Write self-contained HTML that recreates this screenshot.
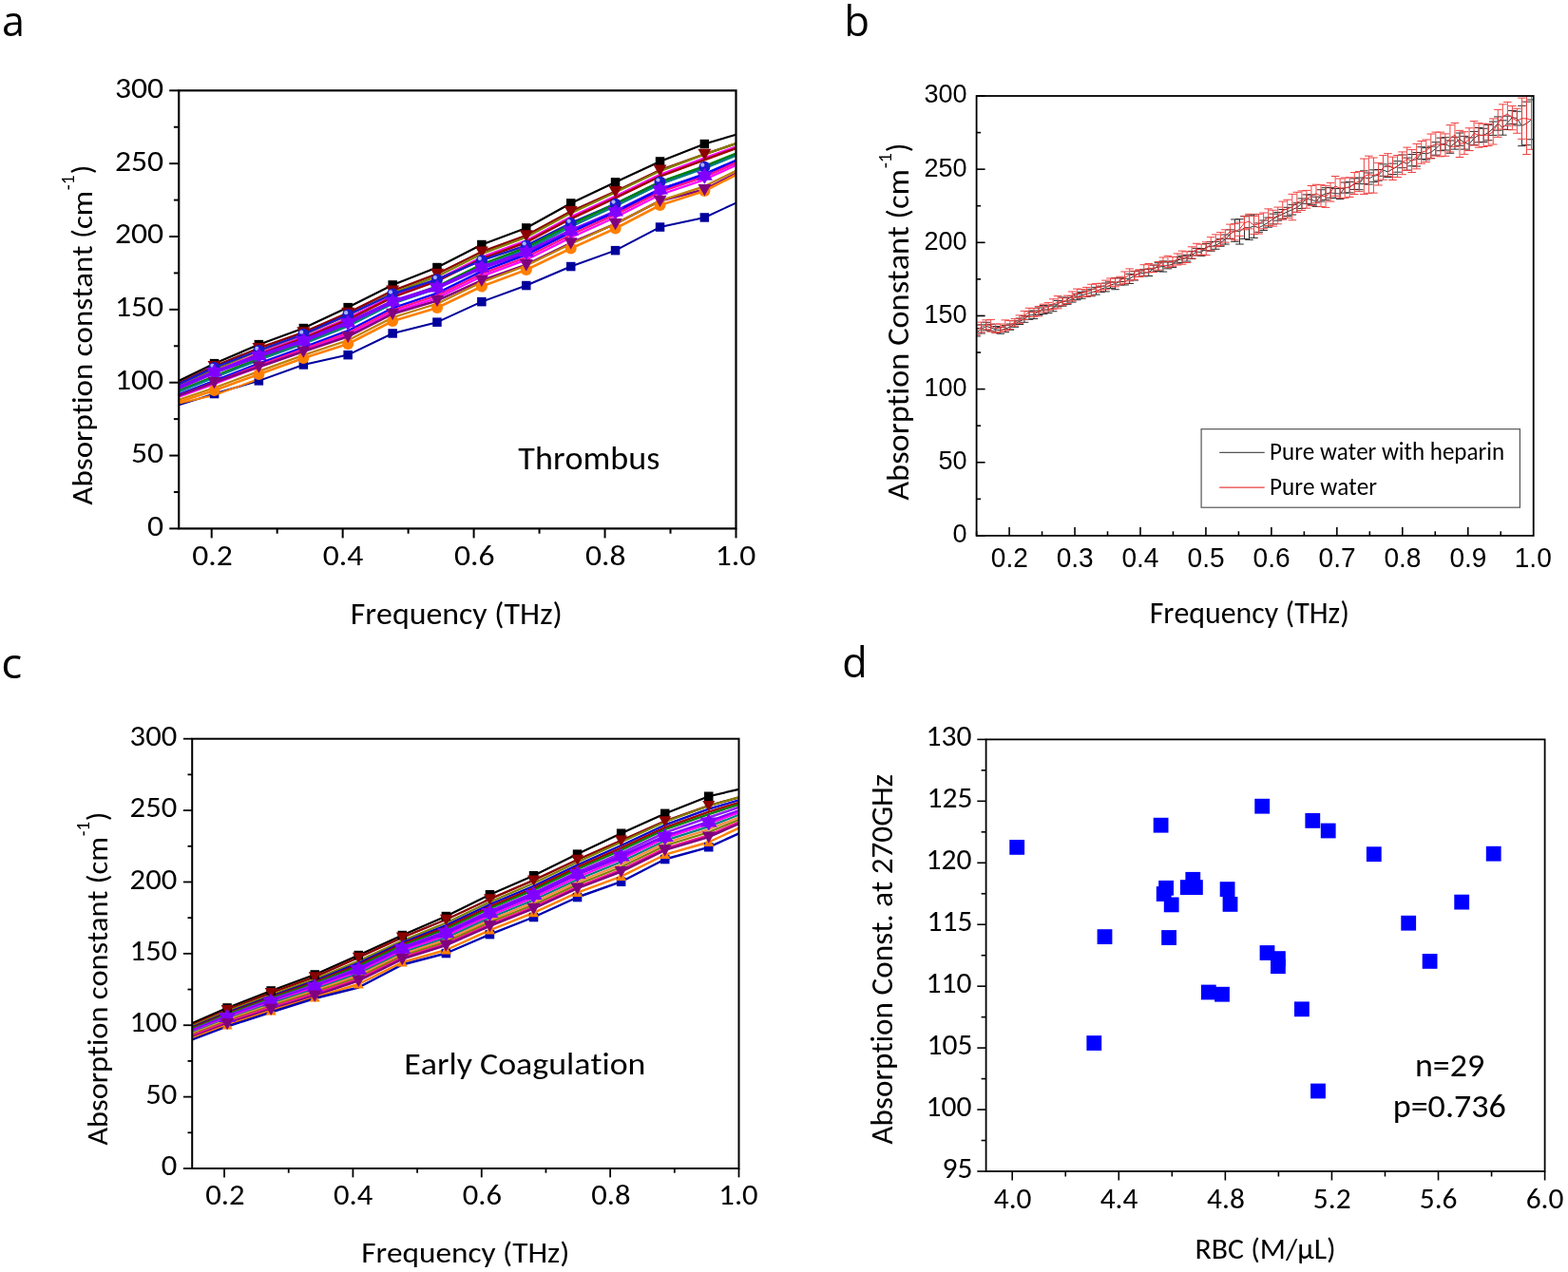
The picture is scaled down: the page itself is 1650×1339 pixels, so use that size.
<!DOCTYPE html>
<html><head><meta charset="utf-8"><title>Figure</title>
<style>html,body{margin:0;padding:0;background:#fff;width:1650px;height:1339px;overflow:hidden}</style>
</head><body>
<svg width="1650" height="1339" viewBox="0 0 1650 1339" style="display:block;font-kerning:none;font-variant-ligatures:none">
<rect width="1650" height="1339" fill="#fff"/>
<defs><clipPath id="clipA"><rect x="188.2" y="95.3" width="586.3" height="461.1"/></clipPath><clipPath id="clipC"><rect x="202.2" y="777.7" width="575.3" height="452.3"/></clipPath><clipPath id="clipB"><rect x="1027.6" y="101" width="586.1" height="462.9"/></clipPath></defs>
<g clip-path="url(#clipA)">
<polyline points="188.2,401.0 225.5,382.7 272.4,362.7 319.3,345.5 366.2,323.6 413.1,300.0 460.0,281.5 506.9,257.5 553.8,240.0 600.7,214.0 647.6,191.8 694.5,170.0 741.4,151.5 774.5,141.8" fill="none" stroke="#000000" stroke-width="2.2" stroke-linejoin="round" />
<polyline points="188.2,403.2 225.5,385.5 272.4,366.5 319.3,349.9 366.2,329.4 413.1,306.1 460.0,288.3 506.9,265.0 553.8,247.9 600.7,222.6 647.6,201.5 694.5,179.2 741.4,162.4 774.5,151.1" fill="none" stroke="#8B0000" stroke-width="2.4" stroke-linejoin="round" />
<polyline points="188.2,405.8 225.5,388.9 272.4,369.6 319.3,352.4 366.2,332.0 413.1,308.4 460.0,290.9 506.9,267.2 553.8,249.7 600.7,224.4 647.6,202.5 694.5,180.1 741.4,162.4 774.5,151.1" fill="none" stroke="#808000" stroke-width="2.2" stroke-linejoin="round" />
<polyline points="188.2,407.6 225.5,391.2 272.4,372.1 319.3,354.9 366.2,335.1 413.1,311.4 460.0,294.2 506.9,270.7 553.8,253.2 600.7,228.2 647.6,206.4 694.5,183.8 741.4,166.3 774.5,154.5" fill="none" stroke="#FF00FF" stroke-width="2.2" stroke-linejoin="round" />
<polyline points="188.2,408.5 225.5,392.3 272.4,373.3 319.3,356.2 366.2,336.7 413.1,312.9 460.0,295.9 506.9,272.5 553.8,255.0 600.7,230.2 647.6,208.4 694.5,185.6 741.4,168.3 774.5,156.1" fill="none" stroke="#A00000" stroke-width="2.6" stroke-linejoin="round" />
<polyline points="188.2,404.3 225.5,386.9 272.4,369.0 319.3,351.8 366.2,331.3 413.1,309.5 460.0,294.2 506.9,274.2 553.8,258.5 600.7,234.9 647.6,214.7 694.5,191.6 741.4,175.8 774.5,162.9" fill="none" stroke="#1a1acd" stroke-width="2.4" stroke-linejoin="round" />
<polyline points="188.2,411.3 225.5,396.0 272.4,377.4 319.3,360.3 366.2,341.6 413.1,317.9 460.0,301.5 506.9,278.2 553.8,260.7 600.7,236.3 647.6,214.7 694.5,191.6 741.4,174.8 774.5,161.6" fill="none" stroke="#008000" stroke-width="2.4" stroke-linejoin="round" />
<polyline points="188.2,412.4 225.5,397.4 272.4,379.0 319.3,361.9 366.2,343.6 413.1,319.8 460.0,303.6 506.9,280.4 553.8,262.9 600.7,238.7 647.6,217.1 694.5,193.9 741.4,177.2 774.5,163.7" fill="none" stroke="#008080" stroke-width="2.2" stroke-linejoin="round" />
<polyline points="188.2,408.0 225.5,391.8 272.4,374.6 319.3,358.7 366.2,339.7 413.1,317.5 460.0,302.8 506.9,281.7 553.8,265.5 600.7,243.0 647.6,223.0 694.5,199.9 741.4,185.2 774.5,170.5" fill="none" stroke="#8000FF" stroke-width="4.0" stroke-linejoin="round" />
<polyline points="188.2,415.1 225.5,400.8 272.4,382.7 319.3,365.7 366.2,348.2 413.1,324.3 460.0,308.7 506.9,285.7 553.8,268.2 600.7,244.4 647.6,223.0 694.5,199.4 741.4,183.2 774.5,168.8" fill="none" stroke="#0000FF" stroke-width="2.4" stroke-linejoin="round" />
<polyline points="188.2,416.4 225.5,402.5 272.4,384.6 319.3,367.6 366.2,350.5 413.1,326.6 460.0,311.2 506.9,288.3 553.8,270.8 600.7,247.2 647.6,225.9 694.5,202.2 741.4,186.2 774.5,171.3" fill="none" stroke="#FF1493" stroke-width="2.4" stroke-linejoin="round" />
<polyline points="188.2,417.7 225.5,404.2 272.4,386.5 319.3,369.4 366.2,352.8 413.1,328.9 460.0,313.8 506.9,290.9 553.8,273.4 600.7,250.1 647.6,228.8 694.5,205.0 741.4,189.1 774.5,173.9" fill="none" stroke="#FF00FF" stroke-width="2.2" stroke-linejoin="round" />
<polyline points="188.2,416.4 225.5,402.5 272.4,386.2 319.3,370.1 366.2,354.3 413.1,330.4 460.0,316.4 506.9,295.3 553.8,278.7 600.7,255.8 647.6,235.6 694.5,211.4 741.4,199.5 774.5,182.7" fill="none" stroke="#800080" stroke-width="2.6" stroke-linejoin="round" />
<polyline points="188.2,420.8 225.5,408.2 272.4,390.9 319.3,373.9 366.2,358.2 413.1,334.2 460.0,319.8 506.9,297.1 553.8,279.6 600.7,256.8 647.6,235.6 694.5,211.4 741.4,196.1 774.5,179.8" fill="none" stroke="#C08000" stroke-width="2.2" stroke-linejoin="round" />
<polyline points="188.2,423.0 225.5,411.0 272.4,394.0 319.3,377.0 366.2,362.0 413.1,338.0 460.0,324.0 506.9,301.5 553.8,284.0 600.7,261.5 647.6,240.5 694.5,216.0 741.4,201.0 774.5,184.0" fill="none" stroke="#FF8000" stroke-width="2.6" stroke-linejoin="round" />
<polyline points="188.2,426.4 225.5,414.5 272.4,400.9 319.3,384.0 366.2,373.6 413.1,351.0 460.0,339.2 506.9,317.6 553.8,300.5 600.7,280.5 647.6,263.6 694.5,239.1 741.4,229.0 774.5,213.6" fill="none" stroke="#00009C" stroke-width="2.0" stroke-linejoin="round" />
<polyline points="188.2,424.5 225.5,416.0 272.4,399.0" fill="none" stroke="#FF8000" stroke-width="2.0" stroke-linejoin="round" />
<rect x="220.8" y="409.8" width="9.5" height="9.5" fill="#00009C"/>
<rect x="267.6" y="396.1" width="9.5" height="9.5" fill="#00009C"/>
<rect x="314.6" y="379.2" width="9.5" height="9.5" fill="#00009C"/>
<rect x="361.4" y="368.9" width="9.5" height="9.5" fill="#00009C"/>
<rect x="408.4" y="346.2" width="9.5" height="9.5" fill="#00009C"/>
<rect x="455.2" y="334.4" width="9.5" height="9.5" fill="#00009C"/>
<rect x="502.1" y="312.9" width="9.5" height="9.5" fill="#00009C"/>
<rect x="549.0" y="295.8" width="9.5" height="9.5" fill="#00009C"/>
<rect x="596.0" y="275.8" width="9.5" height="9.5" fill="#00009C"/>
<rect x="642.8" y="258.9" width="9.5" height="9.5" fill="#00009C"/>
<rect x="689.8" y="234.3" width="9.5" height="9.5" fill="#00009C"/>
<rect x="736.6" y="224.2" width="9.5" height="9.5" fill="#00009C"/>
<circle cx="225.5" cy="411.0" r="6.0" fill="#FF8000"/>
<circle cx="272.4" cy="394.0" r="6.0" fill="#FF8000"/>
<circle cx="319.3" cy="377.0" r="6.0" fill="#FF8000"/>
<circle cx="366.2" cy="362.0" r="6.0" fill="#FF8000"/>
<circle cx="413.1" cy="338.0" r="6.0" fill="#FF8000"/>
<circle cx="460.0" cy="324.0" r="6.0" fill="#FF8000"/>
<circle cx="506.9" cy="301.5" r="6.0" fill="#FF8000"/>
<circle cx="553.8" cy="284.0" r="6.0" fill="#FF8000"/>
<circle cx="600.7" cy="261.5" r="6.0" fill="#FF8000"/>
<circle cx="647.6" cy="240.5" r="6.0" fill="#FF8000"/>
<circle cx="694.5" cy="216.0" r="6.0" fill="#FF8000"/>
<circle cx="741.4" cy="201.0" r="6.0" fill="#FF8000"/>
<rect x="220.8" y="377.9" width="9.5" height="9.5" fill="#000000"/>
<rect x="267.6" y="357.9" width="9.5" height="9.5" fill="#000000"/>
<rect x="314.6" y="340.8" width="9.5" height="9.5" fill="#000000"/>
<rect x="361.4" y="318.9" width="9.5" height="9.5" fill="#000000"/>
<rect x="408.4" y="295.2" width="9.5" height="9.5" fill="#000000"/>
<rect x="455.2" y="276.8" width="9.5" height="9.5" fill="#000000"/>
<rect x="502.1" y="252.8" width="9.5" height="9.5" fill="#000000"/>
<rect x="549.0" y="235.2" width="9.5" height="9.5" fill="#000000"/>
<rect x="596.0" y="209.2" width="9.5" height="9.5" fill="#000000"/>
<rect x="642.8" y="187.1" width="9.5" height="9.5" fill="#000000"/>
<rect x="689.8" y="165.2" width="9.5" height="9.5" fill="#000000"/>
<rect x="736.6" y="146.8" width="9.5" height="9.5" fill="#000000"/>
<polygon points="218.5,379.9 232.5,379.9 225.5,392.2" fill="#8B0000"/>
<polygon points="265.4,360.9 279.4,360.9 272.4,373.1" fill="#8B0000"/>
<polygon points="312.3,344.3 326.3,344.3 319.3,356.6" fill="#8B0000"/>
<polygon points="359.2,323.8 373.2,323.8 366.2,336.0" fill="#8B0000"/>
<polygon points="406.1,300.5 420.1,300.5 413.1,312.7" fill="#8B0000"/>
<polygon points="453.0,282.7 467.0,282.7 460.0,294.9" fill="#8B0000"/>
<polygon points="499.9,259.4 513.9,259.4 506.9,271.6" fill="#8B0000"/>
<polygon points="546.8,242.3 560.8,242.3 553.8,254.6" fill="#8B0000"/>
<polygon points="593.7,217.0 607.7,217.0 600.7,229.2" fill="#8B0000"/>
<polygon points="640.6,195.9 654.6,195.9 647.6,208.2" fill="#8B0000"/>
<polygon points="687.5,173.6 701.5,173.6 694.5,185.8" fill="#8B0000"/>
<polygon points="734.4,156.8 748.4,156.8 741.4,169.0" fill="#8B0000"/>
<circle cx="225.5" cy="386.9" r="6.0" fill="#1a1acd"/>
<circle cx="223.4" cy="384.8" r="2.1" fill="#aab4ff"/>
<circle cx="272.4" cy="369.0" r="6.0" fill="#1a1acd"/>
<circle cx="270.3" cy="366.9" r="2.1" fill="#aab4ff"/>
<circle cx="319.3" cy="351.8" r="6.0" fill="#1a1acd"/>
<circle cx="317.2" cy="349.7" r="2.1" fill="#aab4ff"/>
<circle cx="366.2" cy="331.3" r="6.0" fill="#1a1acd"/>
<circle cx="364.1" cy="329.2" r="2.1" fill="#aab4ff"/>
<circle cx="413.1" cy="309.5" r="6.0" fill="#1a1acd"/>
<circle cx="411.0" cy="307.4" r="2.1" fill="#aab4ff"/>
<circle cx="460.0" cy="294.2" r="6.0" fill="#1a1acd"/>
<circle cx="457.9" cy="292.1" r="2.1" fill="#aab4ff"/>
<circle cx="506.9" cy="274.2" r="6.0" fill="#1a1acd"/>
<circle cx="504.8" cy="272.1" r="2.1" fill="#aab4ff"/>
<circle cx="553.8" cy="258.5" r="6.0" fill="#1a1acd"/>
<circle cx="551.7" cy="256.4" r="2.1" fill="#aab4ff"/>
<circle cx="600.7" cy="234.9" r="6.0" fill="#1a1acd"/>
<circle cx="598.6" cy="232.8" r="2.1" fill="#aab4ff"/>
<circle cx="647.6" cy="214.7" r="6.0" fill="#1a1acd"/>
<circle cx="645.5" cy="212.6" r="2.1" fill="#aab4ff"/>
<circle cx="694.5" cy="191.6" r="6.0" fill="#1a1acd"/>
<circle cx="692.4" cy="189.5" r="2.1" fill="#aab4ff"/>
<circle cx="741.4" cy="175.8" r="6.0" fill="#1a1acd"/>
<circle cx="739.3" cy="173.7" r="2.1" fill="#aab4ff"/>
<polygon points="217.0,387.1 234.0,387.1 225.5,400.3" fill="#8000FF"/>
<polygon points="217.0,396.4 234.0,396.4 225.5,383.3" fill="#8000FF"/>
<polygon points="263.9,369.9 280.9,369.9 272.4,383.1" fill="#8000FF"/>
<polygon points="263.9,379.3 280.9,379.3 272.4,366.1" fill="#8000FF"/>
<polygon points="310.8,354.1 327.8,354.1 319.3,367.2" fill="#8000FF"/>
<polygon points="310.8,363.4 327.8,363.4 319.3,350.2" fill="#8000FF"/>
<polygon points="357.7,335.1 374.7,335.1 366.2,348.2" fill="#8000FF"/>
<polygon points="357.7,344.4 374.7,344.4 366.2,331.2" fill="#8000FF"/>
<polygon points="404.6,312.8 421.6,312.8 413.1,326.0" fill="#8000FF"/>
<polygon points="404.6,322.2 421.6,322.2 413.1,309.0" fill="#8000FF"/>
<polygon points="451.5,298.1 468.5,298.1 460.0,311.2" fill="#8000FF"/>
<polygon points="451.5,307.4 468.5,307.4 460.0,294.2" fill="#8000FF"/>
<polygon points="498.4,277.0 515.4,277.0 506.9,290.2" fill="#8000FF"/>
<polygon points="498.4,286.4 515.4,286.4 506.9,273.2" fill="#8000FF"/>
<polygon points="545.3,260.8 562.3,260.8 553.8,274.0" fill="#8000FF"/>
<polygon points="545.3,270.2 562.3,270.2 553.8,257.0" fill="#8000FF"/>
<polygon points="592.2,238.3 609.2,238.3 600.7,251.5" fill="#8000FF"/>
<polygon points="592.2,247.7 609.2,247.7 600.7,234.5" fill="#8000FF"/>
<polygon points="639.1,218.3 656.1,218.3 647.6,231.5" fill="#8000FF"/>
<polygon points="639.1,227.6 656.1,227.6 647.6,214.5" fill="#8000FF"/>
<polygon points="686.0,195.2 703.0,195.2 694.5,208.4" fill="#8000FF"/>
<polygon points="686.0,204.6 703.0,204.6 694.5,191.4" fill="#8000FF"/>
<polygon points="732.9,180.5 749.9,180.5 741.4,193.7" fill="#8000FF"/>
<polygon points="732.9,189.8 749.9,189.8 741.4,176.7" fill="#8000FF"/>
<polygon points="218.5,396.9 232.5,396.9 225.5,409.2" fill="#800080"/>
<polygon points="265.4,380.6 279.4,380.6 272.4,392.8" fill="#800080"/>
<polygon points="312.3,364.5 326.3,364.5 319.3,376.7" fill="#800080"/>
<polygon points="359.2,348.7 373.2,348.7 366.2,361.0" fill="#800080"/>
<polygon points="406.1,324.8 420.1,324.8 413.1,337.0" fill="#800080"/>
<polygon points="453.0,310.8 467.0,310.8 460.0,323.0" fill="#800080"/>
<polygon points="499.9,289.7 513.9,289.7 506.9,302.0" fill="#800080"/>
<polygon points="546.8,273.1 560.8,273.1 553.8,285.4" fill="#800080"/>
<polygon points="593.7,250.2 607.7,250.2 600.7,262.4" fill="#800080"/>
<polygon points="640.6,230.0 654.6,230.0 647.6,242.3" fill="#800080"/>
<polygon points="687.5,205.8 701.5,205.8 694.5,218.1" fill="#800080"/>
<polygon points="734.4,193.9 748.4,193.9 741.4,206.2" fill="#800080"/>
</g>
<rect x="188.2" y="95.3" width="586.30" height="461.10" fill="none" stroke="#000" stroke-width="2.2"/>
<line x1="178.20" y1="556.40" x2="188.20" y2="556.40" stroke="#000" stroke-width="2.0" stroke-linecap="butt"/>
<line x1="182.90" y1="517.98" x2="188.20" y2="517.98" stroke="#000" stroke-width="2.0" stroke-linecap="butt"/>
<line x1="178.20" y1="479.55" x2="188.20" y2="479.55" stroke="#000" stroke-width="2.0" stroke-linecap="butt"/>
<line x1="182.90" y1="441.12" x2="188.20" y2="441.12" stroke="#000" stroke-width="2.0" stroke-linecap="butt"/>
<line x1="178.20" y1="402.70" x2="188.20" y2="402.70" stroke="#000" stroke-width="2.0" stroke-linecap="butt"/>
<line x1="182.90" y1="364.27" x2="188.20" y2="364.27" stroke="#000" stroke-width="2.0" stroke-linecap="butt"/>
<line x1="178.20" y1="325.85" x2="188.20" y2="325.85" stroke="#000" stroke-width="2.0" stroke-linecap="butt"/>
<line x1="182.90" y1="287.42" x2="188.20" y2="287.42" stroke="#000" stroke-width="2.0" stroke-linecap="butt"/>
<line x1="178.20" y1="249.00" x2="188.20" y2="249.00" stroke="#000" stroke-width="2.0" stroke-linecap="butt"/>
<line x1="182.90" y1="210.58" x2="188.20" y2="210.58" stroke="#000" stroke-width="2.0" stroke-linecap="butt"/>
<line x1="178.20" y1="172.15" x2="188.20" y2="172.15" stroke="#000" stroke-width="2.0" stroke-linecap="butt"/>
<line x1="182.90" y1="133.73" x2="188.20" y2="133.73" stroke="#000" stroke-width="2.0" stroke-linecap="butt"/>
<line x1="178.20" y1="95.30" x2="188.20" y2="95.30" stroke="#000" stroke-width="2.0" stroke-linecap="butt"/>
<line x1="222.69" y1="556.40" x2="222.69" y2="566.40" stroke="#000" stroke-width="2.0" stroke-linecap="butt"/>
<line x1="291.66" y1="556.40" x2="291.66" y2="561.70" stroke="#000" stroke-width="2.0" stroke-linecap="butt"/>
<line x1="360.64" y1="556.40" x2="360.64" y2="566.40" stroke="#000" stroke-width="2.0" stroke-linecap="butt"/>
<line x1="429.62" y1="556.40" x2="429.62" y2="561.70" stroke="#000" stroke-width="2.0" stroke-linecap="butt"/>
<line x1="498.59" y1="556.40" x2="498.59" y2="566.40" stroke="#000" stroke-width="2.0" stroke-linecap="butt"/>
<line x1="567.57" y1="556.40" x2="567.57" y2="561.70" stroke="#000" stroke-width="2.0" stroke-linecap="butt"/>
<line x1="636.55" y1="556.40" x2="636.55" y2="566.40" stroke="#000" stroke-width="2.0" stroke-linecap="butt"/>
<line x1="705.52" y1="556.40" x2="705.52" y2="561.70" stroke="#000" stroke-width="2.0" stroke-linecap="butt"/>
<line x1="774.50" y1="556.40" x2="774.50" y2="566.40" stroke="#000" stroke-width="2.0" stroke-linecap="butt"/>
<text x="155.09" y="563.80" font-family="Carlito, 'Liberation Sans', sans-serif" font-size="31.50" textLength="17.08" lengthAdjust="spacingAndGlyphs" fill="#000" style="font-size-adjust:0.4775">0</text>
<text x="138.01" y="486.95" font-family="Carlito, 'Liberation Sans', sans-serif" font-size="31.50" textLength="34.17" lengthAdjust="spacingAndGlyphs" fill="#000" style="font-size-adjust:0.4775">50</text>
<text x="120.92" y="410.10" font-family="Carlito, 'Liberation Sans', sans-serif" font-size="31.50" textLength="51.25" lengthAdjust="spacingAndGlyphs" fill="#000" style="font-size-adjust:0.4775">100</text>
<text x="120.92" y="333.25" font-family="Carlito, 'Liberation Sans', sans-serif" font-size="31.50" textLength="51.25" lengthAdjust="spacingAndGlyphs" fill="#000" style="font-size-adjust:0.4775">150</text>
<text x="120.92" y="256.40" font-family="Carlito, 'Liberation Sans', sans-serif" font-size="31.50" textLength="51.25" lengthAdjust="spacingAndGlyphs" fill="#000" style="font-size-adjust:0.4775">200</text>
<text x="120.92" y="179.55" font-family="Carlito, 'Liberation Sans', sans-serif" font-size="31.50" textLength="51.25" lengthAdjust="spacingAndGlyphs" fill="#000" style="font-size-adjust:0.4775">250</text>
<text x="120.92" y="102.70" font-family="Carlito, 'Liberation Sans', sans-serif" font-size="31.50" textLength="51.25" lengthAdjust="spacingAndGlyphs" fill="#000" style="font-size-adjust:0.4775">300</text>
<text x="202.20" y="594.80" font-family="Carlito, 'Liberation Sans', sans-serif" font-size="31.40" textLength="42.54" lengthAdjust="spacingAndGlyphs" fill="#000" style="font-size-adjust:0.4775">0.2</text>
<text x="339.72" y="594.80" font-family="Carlito, 'Liberation Sans', sans-serif" font-size="31.40" textLength="42.54" lengthAdjust="spacingAndGlyphs" fill="#000" style="font-size-adjust:0.4775">0.4</text>
<text x="477.97" y="594.80" font-family="Carlito, 'Liberation Sans', sans-serif" font-size="31.40" textLength="42.54" lengthAdjust="spacingAndGlyphs" fill="#000" style="font-size-adjust:0.4775">0.6</text>
<text x="616.02" y="594.80" font-family="Carlito, 'Liberation Sans', sans-serif" font-size="31.40" textLength="42.54" lengthAdjust="spacingAndGlyphs" fill="#000" style="font-size-adjust:0.4775">0.8</text>
<text x="752.71" y="594.80" font-family="Carlito, 'Liberation Sans', sans-serif" font-size="31.40" textLength="42.54" lengthAdjust="spacingAndGlyphs" fill="#000" style="font-size-adjust:0.4775">1.0</text>
<text x="368.72" y="656.60" font-family="Carlito, 'Liberation Sans', sans-serif" font-size="32.40" textLength="223.06" lengthAdjust="spacingAndGlyphs" fill="#000" style="font-size-adjust:0.4775">Frequency (THz)</text>
<text x="545.38" y="493.70" font-family="Carlito, 'Liberation Sans', sans-serif" font-size="34.00" textLength="148.94" lengthAdjust="spacingAndGlyphs" fill="#000" style="font-size-adjust:0.4775">Thrombus</text>
<text x="2.02" y="37.80" font-family="'Open Sans', 'DejaVu Sans', 'Liberation Sans', sans-serif" font-size="43.50" textLength="23.97" lengthAdjust="spacingAndGlyphs" fill="#000" style="font-size-adjust:0.535">a</text>
<text transform="translate(97.10,531.63) rotate(-90)" x="0" y="0" font-family="Carlito, 'Liberation Sans', sans-serif" font-size="31.20" textLength="330.84" lengthAdjust="spacingAndGlyphs" fill="#000" style="font-size-adjust:0.4775">Absorption constant (cm</text>
<text transform="translate(77.50,200.31) rotate(-90)" x="0" y="0" font-family="Carlito, 'Liberation Sans', sans-serif" font-size="20.00" textLength="15.78" lengthAdjust="spacingAndGlyphs" fill="#000" style="font-size-adjust:0.4775">-1</text>
<text transform="translate(97.10,183.27) rotate(-90)" x="0" y="0" font-family="Carlito, 'Liberation Sans', sans-serif" font-size="31.20" textLength="9.45" lengthAdjust="spacingAndGlyphs" fill="#000" style="font-size-adjust:0.4775">)</text>
<g clip-path="url(#clipC)">
<polyline points="202.2,1077.0 239.1,1061.0 285.2,1043.0 331.2,1026.0 377.3,1005.5 423.3,984.5 469.4,964.5 515.5,941.8 561.5,921.8 607.6,899.1 653.6,877.3 699.7,856.4 745.8,838.2 777.5,830.9" fill="none" stroke="#000000" stroke-width="2.2" stroke-linejoin="round" />
<polyline points="202.2,1078.9 239.1,1063.2 285.2,1045.1 331.2,1028.4 377.3,1007.9 423.3,986.8 469.4,968.0 515.5,946.4 561.5,926.6 607.6,905.0 653.6,884.8 699.7,864.4 745.8,848.2 777.5,839.3" fill="none" stroke="#8B0000" stroke-width="2.4" stroke-linejoin="round" />
<polyline points="202.2,1080.2 239.1,1064.6 285.2,1047.2 331.2,1030.8 377.3,1011.6 423.3,990.2 469.4,971.6 515.5,949.4 561.5,929.8 607.6,907.5 653.6,886.6 699.7,865.3 745.8,848.2 777.5,839.3" fill="none" stroke="#808000" stroke-width="2.2" stroke-linejoin="round" />
<polyline points="202.2,1081.3 239.1,1065.9 285.2,1048.7 331.2,1032.5 377.3,1013.7 423.3,992.2 469.4,974.1 515.5,952.1 561.5,932.7 607.6,910.4 653.6,889.9 699.7,868.4 745.8,851.6 777.5,842.3" fill="none" stroke="#0000CD" stroke-width="2.2" stroke-linejoin="round" />
<polyline points="202.2,1082.3 239.1,1066.9 285.2,1049.9 331.2,1033.9 377.3,1015.6 423.3,993.9 469.4,976.2 515.5,954.4 561.5,935.1 607.6,912.9 653.6,892.7 699.7,871.1 745.8,854.6 777.5,844.8" fill="none" stroke="#A00000" stroke-width="2.4" stroke-linejoin="round" />
<polyline points="202.2,1083.1 239.1,1067.8 285.2,1051.0 331.2,1035.1 377.3,1017.1 423.3,995.3 469.4,978.0 515.5,956.3 561.5,937.1 607.6,915.0 653.6,895.0 699.7,873.3 745.8,857.1 777.5,846.9" fill="none" stroke="#008000" stroke-width="2.2" stroke-linejoin="round" />
<polyline points="202.2,1084.2 239.1,1069.1 285.2,1052.5 331.2,1036.8 377.3,1019.2 423.3,997.3 469.4,980.5 515.5,959.0 561.5,939.9 607.6,918.0 653.6,898.3 699.7,876.5 745.8,860.6 777.5,849.8" fill="none" stroke="#9020F0" stroke-width="2.6" stroke-linejoin="round" />
<polyline points="202.2,1085.8 239.1,1070.9 285.2,1054.5 331.2,1039.2 377.3,1020.8 423.3,998.8 469.4,982.2 515.5,960.9 561.5,941.9 607.6,920.0 653.6,901.6 699.7,880.9 745.8,865.6 777.5,854.1" fill="none" stroke="#8000FF" stroke-width="4.0" stroke-linejoin="round" />
<polyline points="202.2,1086.3 239.1,1071.4 285.2,1055.2 331.2,1039.9 377.3,1023.2 423.3,1001.0 469.4,985.1 515.5,964.0 561.5,945.1 607.6,923.4 653.6,904.4 699.7,882.3 745.8,867.1 777.5,855.3" fill="none" stroke="#FF00FF" stroke-width="2.2" stroke-linejoin="round" />
<polyline points="202.2,1087.2 239.1,1072.5 285.2,1056.4 331.2,1041.4 377.3,1025.0 423.3,1002.7 469.4,987.2 515.5,966.2 561.5,947.5 607.6,925.9 653.6,907.2 699.7,884.9 745.8,870.1 777.5,857.8" fill="none" stroke="#008080" stroke-width="2.2" stroke-linejoin="round" />
<polyline points="202.2,1088.2 239.1,1073.6 285.2,1057.7 331.2,1042.8 377.3,1026.8 423.3,1004.5 469.4,989.4 515.5,968.5 561.5,949.9 607.6,928.4 653.6,910.0 699.7,887.6 745.8,873.1 777.5,860.4" fill="none" stroke="#FF8C40" stroke-width="2.2" stroke-linejoin="round" />
<polyline points="202.2,1089.2 239.1,1074.7 285.2,1059.0 331.2,1044.2 377.3,1028.7 423.3,1006.2 469.4,991.5 515.5,970.8 561.5,952.4 607.6,930.9 653.6,912.8 699.7,890.3 745.8,876.0 777.5,862.9" fill="none" stroke="#808000" stroke-width="2.2" stroke-linejoin="round" />
<polyline points="202.2,1090.1 239.1,1075.8 285.2,1060.2 331.2,1045.7 377.3,1030.5 423.3,1007.9 469.4,993.6 515.5,973.1 561.5,954.8 607.6,933.5 653.6,915.6 699.7,893.0 745.8,879.0 777.5,865.4" fill="none" stroke="#FF1493" stroke-width="2.2" stroke-linejoin="round" />
<polyline points="202.2,1091.7 239.1,1077.6 285.2,1062.3 331.2,1048.1 377.3,1032.3 423.3,1009.6 469.4,995.0 515.5,974.7 561.5,956.4 607.6,935.1 653.6,917.5 699.7,894.8 745.8,881.0 777.5,867.1" fill="none" stroke="#800080" stroke-width="2.6" stroke-linejoin="round" />
<polyline points="202.2,1093.0 239.1,1079.0 285.2,1064.0 331.2,1050.0 377.3,1036.0 423.3,1013.0 469.4,1000.0 515.5,979.2 561.5,960.8 607.6,939.7 653.6,922.6 699.7,899.7 745.8,886.5 777.5,871.7" fill="none" stroke="#FF8000" stroke-width="2.4" stroke-linejoin="round" />
<polyline points="202.2,1094.5 239.1,1080.5 285.2,1065.5 331.2,1051.0 377.3,1039.5 423.3,1015.5 469.4,1003.5 515.5,983.6 561.5,965.5 607.6,944.5 653.6,928.2 699.7,904.5 745.8,891.8 777.5,877.3" fill="none" stroke="#0000B0" stroke-width="2.4" stroke-linejoin="round" />
<rect x="464.6" y="998.8" width="9.5" height="9.5" fill="#0000B0"/>
<rect x="510.7" y="978.9" width="9.5" height="9.5" fill="#0000B0"/>
<rect x="556.8" y="960.8" width="9.5" height="9.5" fill="#0000B0"/>
<rect x="602.8" y="939.8" width="9.5" height="9.5" fill="#0000B0"/>
<rect x="648.9" y="923.5" width="9.5" height="9.5" fill="#0000B0"/>
<rect x="695.0" y="899.8" width="9.5" height="9.5" fill="#0000B0"/>
<rect x="741.0" y="887.0" width="9.5" height="9.5" fill="#0000B0"/>
<polygon points="233.6,1083.4 244.6,1083.4 239.1,1073.8" fill="#FF8000"/>
<polygon points="279.7,1068.4 290.7,1068.4 285.2,1058.8" fill="#FF8000"/>
<polygon points="325.7,1054.4 336.7,1054.4 331.2,1044.8" fill="#FF8000"/>
<polygon points="371.8,1040.4 382.8,1040.4 377.3,1030.8" fill="#FF8000"/>
<polygon points="417.8,1017.4 428.8,1017.4 423.3,1007.8" fill="#FF8000"/>
<polygon points="463.9,1004.4 474.9,1004.4 469.4,994.8" fill="#FF8000"/>
<polygon points="510.0,983.6 521.0,983.6 515.5,974.0" fill="#FF8000"/>
<polygon points="556.0,965.2 567.0,965.2 561.5,955.6" fill="#FF8000"/>
<polygon points="602.1,944.1 613.1,944.1 607.6,934.5" fill="#FF8000"/>
<polygon points="648.1,927.0 659.1,927.0 653.6,917.4" fill="#FF8000"/>
<polygon points="694.2,904.1 705.2,904.1 699.7,894.4" fill="#FF8000"/>
<polygon points="740.3,890.9 751.3,890.9 745.8,881.3" fill="#FF8000"/>
<rect x="234.3" y="1056.2" width="9.5" height="9.5" fill="#000000"/>
<rect x="280.4" y="1038.2" width="9.5" height="9.5" fill="#000000"/>
<rect x="326.5" y="1021.2" width="9.5" height="9.5" fill="#000000"/>
<rect x="372.5" y="1000.8" width="9.5" height="9.5" fill="#000000"/>
<rect x="418.6" y="979.8" width="9.5" height="9.5" fill="#000000"/>
<rect x="464.6" y="959.8" width="9.5" height="9.5" fill="#000000"/>
<rect x="510.7" y="937.0" width="9.5" height="9.5" fill="#000000"/>
<rect x="556.8" y="917.0" width="9.5" height="9.5" fill="#000000"/>
<rect x="602.8" y="894.4" width="9.5" height="9.5" fill="#000000"/>
<rect x="648.9" y="872.5" width="9.5" height="9.5" fill="#000000"/>
<rect x="695.0" y="851.6" width="9.5" height="9.5" fill="#000000"/>
<rect x="741.0" y="833.5" width="9.5" height="9.5" fill="#000000"/>
<polygon points="232.6,1058.0 245.6,1058.0 239.1,1069.3" fill="#8B0000"/>
<polygon points="278.7,1039.9 291.7,1039.9 285.2,1051.3" fill="#8B0000"/>
<polygon points="324.7,1023.2 337.7,1023.2 331.2,1034.6" fill="#8B0000"/>
<polygon points="370.8,1002.7 383.8,1002.7 377.3,1014.1" fill="#8B0000"/>
<polygon points="416.8,981.6 429.8,981.6 423.3,993.0" fill="#8B0000"/>
<polygon points="462.9,962.8 475.9,962.8 469.4,974.2" fill="#8B0000"/>
<polygon points="509.0,941.2 522.0,941.2 515.5,952.6" fill="#8B0000"/>
<polygon points="555.0,921.4 568.0,921.4 561.5,932.8" fill="#8B0000"/>
<polygon points="601.1,899.8 614.1,899.8 607.6,911.1" fill="#8B0000"/>
<polygon points="647.1,879.6 660.1,879.6 653.6,890.9" fill="#8B0000"/>
<polygon points="693.2,859.2 706.2,859.2 699.7,870.6" fill="#8B0000"/>
<polygon points="739.3,843.0 752.3,843.0 745.8,854.3" fill="#8B0000"/>
<polygon points="230.1,1066.0 248.1,1066.0 239.1,1079.9" fill="#8000FF"/>
<polygon points="230.1,1075.9 248.1,1075.9 239.1,1061.9" fill="#8000FF"/>
<polygon points="276.2,1049.6 294.2,1049.6 285.2,1063.5" fill="#8000FF"/>
<polygon points="276.2,1059.5 294.2,1059.5 285.2,1045.5" fill="#8000FF"/>
<polygon points="322.2,1034.2 340.2,1034.2 331.2,1048.2" fill="#8000FF"/>
<polygon points="322.2,1044.2 340.2,1044.2 331.2,1030.2" fill="#8000FF"/>
<polygon points="368.3,1015.8 386.3,1015.8 377.3,1029.8" fill="#8000FF"/>
<polygon points="368.3,1025.7 386.3,1025.7 377.3,1011.8" fill="#8000FF"/>
<polygon points="414.3,993.8 432.3,993.8 423.3,1007.8" fill="#8000FF"/>
<polygon points="414.3,1003.7 432.3,1003.7 423.3,989.8" fill="#8000FF"/>
<polygon points="460.4,977.3 478.4,977.3 469.4,991.2" fill="#8000FF"/>
<polygon points="460.4,987.2 478.4,987.2 469.4,973.2" fill="#8000FF"/>
<polygon points="506.5,955.9 524.5,955.9 515.5,969.9" fill="#8000FF"/>
<polygon points="506.5,965.9 524.5,965.9 515.5,951.9" fill="#8000FF"/>
<polygon points="552.5,936.9 570.5,936.9 561.5,950.9" fill="#8000FF"/>
<polygon points="552.5,946.9 570.5,946.9 561.5,932.9" fill="#8000FF"/>
<polygon points="598.6,915.1 616.6,915.1 607.6,929.0" fill="#8000FF"/>
<polygon points="598.6,925.0 616.6,925.0 607.6,911.0" fill="#8000FF"/>
<polygon points="644.6,896.6 662.6,896.6 653.6,910.6" fill="#8000FF"/>
<polygon points="644.6,906.5 662.6,906.5 653.6,892.6" fill="#8000FF"/>
<polygon points="690.7,876.0 708.7,876.0 699.7,889.9" fill="#8000FF"/>
<polygon points="690.7,885.9 708.7,885.9 699.7,871.9" fill="#8000FF"/>
<polygon points="736.8,860.6 754.8,860.6 745.8,874.6" fill="#8000FF"/>
<polygon points="736.8,870.5 754.8,870.5 745.8,856.6" fill="#8000FF"/>
<polygon points="232.1,1072.0 246.1,1072.0 239.1,1084.2" fill="#800080"/>
<polygon points="278.2,1056.7 292.2,1056.7 285.2,1069.0" fill="#800080"/>
<polygon points="324.2,1042.5 338.2,1042.5 331.2,1054.7" fill="#800080"/>
<polygon points="370.3,1026.7 384.3,1026.7 377.3,1039.0" fill="#800080"/>
<polygon points="416.3,1004.0 430.3,1004.0 423.3,1016.2" fill="#800080"/>
<polygon points="462.4,989.4 476.4,989.4 469.4,1001.7" fill="#800080"/>
<polygon points="508.5,969.1 522.5,969.1 515.5,981.3" fill="#800080"/>
<polygon points="554.5,950.8 568.5,950.8 561.5,963.0" fill="#800080"/>
<polygon points="600.6,929.5 614.6,929.5 607.6,941.8" fill="#800080"/>
<polygon points="646.6,911.9 660.6,911.9 653.6,924.1" fill="#800080"/>
<polygon points="692.7,889.2 706.7,889.2 699.7,901.4" fill="#800080"/>
<polygon points="738.8,875.4 752.8,875.4 745.8,887.7" fill="#800080"/>
</g>
<rect x="202.2" y="777.7" width="575.30" height="452.30" fill="none" stroke="#000" stroke-width="2.0"/>
<line x1="192.90" y1="1230.00" x2="202.20" y2="1230.00" stroke="#000" stroke-width="1.8" stroke-linecap="butt"/>
<line x1="197.50" y1="1192.31" x2="202.20" y2="1192.31" stroke="#000" stroke-width="1.8" stroke-linecap="butt"/>
<line x1="192.90" y1="1154.62" x2="202.20" y2="1154.62" stroke="#000" stroke-width="1.8" stroke-linecap="butt"/>
<line x1="197.50" y1="1116.92" x2="202.20" y2="1116.92" stroke="#000" stroke-width="1.8" stroke-linecap="butt"/>
<line x1="192.90" y1="1079.23" x2="202.20" y2="1079.23" stroke="#000" stroke-width="1.8" stroke-linecap="butt"/>
<line x1="197.50" y1="1041.54" x2="202.20" y2="1041.54" stroke="#000" stroke-width="1.8" stroke-linecap="butt"/>
<line x1="192.90" y1="1003.85" x2="202.20" y2="1003.85" stroke="#000" stroke-width="1.8" stroke-linecap="butt"/>
<line x1="197.50" y1="966.16" x2="202.20" y2="966.16" stroke="#000" stroke-width="1.8" stroke-linecap="butt"/>
<line x1="192.90" y1="928.47" x2="202.20" y2="928.47" stroke="#000" stroke-width="1.8" stroke-linecap="butt"/>
<line x1="197.50" y1="890.78" x2="202.20" y2="890.78" stroke="#000" stroke-width="1.8" stroke-linecap="butt"/>
<line x1="192.90" y1="853.08" x2="202.20" y2="853.08" stroke="#000" stroke-width="1.8" stroke-linecap="butt"/>
<line x1="197.50" y1="815.39" x2="202.20" y2="815.39" stroke="#000" stroke-width="1.8" stroke-linecap="butt"/>
<line x1="192.90" y1="777.70" x2="202.20" y2="777.70" stroke="#000" stroke-width="1.8" stroke-linecap="butt"/>
<line x1="236.04" y1="1230.00" x2="236.04" y2="1239.40" stroke="#000" stroke-width="1.8" stroke-linecap="butt"/>
<line x1="303.72" y1="1230.00" x2="303.72" y2="1234.70" stroke="#000" stroke-width="1.8" stroke-linecap="butt"/>
<line x1="371.41" y1="1230.00" x2="371.41" y2="1239.40" stroke="#000" stroke-width="1.8" stroke-linecap="butt"/>
<line x1="439.09" y1="1230.00" x2="439.09" y2="1234.70" stroke="#000" stroke-width="1.8" stroke-linecap="butt"/>
<line x1="506.77" y1="1230.00" x2="506.77" y2="1239.40" stroke="#000" stroke-width="1.8" stroke-linecap="butt"/>
<line x1="574.45" y1="1230.00" x2="574.45" y2="1234.70" stroke="#000" stroke-width="1.8" stroke-linecap="butt"/>
<line x1="642.14" y1="1230.00" x2="642.14" y2="1239.40" stroke="#000" stroke-width="1.8" stroke-linecap="butt"/>
<line x1="709.82" y1="1230.00" x2="709.82" y2="1234.70" stroke="#000" stroke-width="1.8" stroke-linecap="butt"/>
<line x1="777.50" y1="1230.00" x2="777.50" y2="1239.40" stroke="#000" stroke-width="1.8" stroke-linecap="butt"/>
<text x="169.70" y="1237.20" font-family="Carlito, 'Liberation Sans', sans-serif" font-size="30.50" textLength="16.54" lengthAdjust="spacingAndGlyphs" fill="#000" style="font-size-adjust:0.4775">0</text>
<text x="153.16" y="1161.82" font-family="Carlito, 'Liberation Sans', sans-serif" font-size="30.50" textLength="33.08" lengthAdjust="spacingAndGlyphs" fill="#000" style="font-size-adjust:0.4775">50</text>
<text x="136.62" y="1086.43" font-family="Carlito, 'Liberation Sans', sans-serif" font-size="30.50" textLength="49.62" lengthAdjust="spacingAndGlyphs" fill="#000" style="font-size-adjust:0.4775">100</text>
<text x="136.62" y="1011.05" font-family="Carlito, 'Liberation Sans', sans-serif" font-size="30.50" textLength="49.62" lengthAdjust="spacingAndGlyphs" fill="#000" style="font-size-adjust:0.4775">150</text>
<text x="136.62" y="935.67" font-family="Carlito, 'Liberation Sans', sans-serif" font-size="30.50" textLength="49.62" lengthAdjust="spacingAndGlyphs" fill="#000" style="font-size-adjust:0.4775">200</text>
<text x="136.62" y="860.28" font-family="Carlito, 'Liberation Sans', sans-serif" font-size="30.50" textLength="49.62" lengthAdjust="spacingAndGlyphs" fill="#000" style="font-size-adjust:0.4775">250</text>
<text x="136.62" y="784.90" font-family="Carlito, 'Liberation Sans', sans-serif" font-size="30.50" textLength="49.62" lengthAdjust="spacingAndGlyphs" fill="#000" style="font-size-adjust:0.4775">300</text>
<text x="216.15" y="1268.00" font-family="Carlito, 'Liberation Sans', sans-serif" font-size="30.50" textLength="41.32" lengthAdjust="spacingAndGlyphs" fill="#000" style="font-size-adjust:0.4775">0.2</text>
<text x="351.09" y="1268.00" font-family="Carlito, 'Liberation Sans', sans-serif" font-size="30.50" textLength="41.32" lengthAdjust="spacingAndGlyphs" fill="#000" style="font-size-adjust:0.4775">0.4</text>
<text x="486.75" y="1268.00" font-family="Carlito, 'Liberation Sans', sans-serif" font-size="30.50" textLength="41.32" lengthAdjust="spacingAndGlyphs" fill="#000" style="font-size-adjust:0.4775">0.6</text>
<text x="622.21" y="1268.00" font-family="Carlito, 'Liberation Sans', sans-serif" font-size="30.50" textLength="41.32" lengthAdjust="spacingAndGlyphs" fill="#000" style="font-size-adjust:0.4775">0.8</text>
<text x="756.35" y="1268.00" font-family="Carlito, 'Liberation Sans', sans-serif" font-size="30.50" textLength="41.32" lengthAdjust="spacingAndGlyphs" fill="#000" style="font-size-adjust:0.4775">1.0</text>
<text x="380.16" y="1329.00" font-family="Carlito, 'Liberation Sans', sans-serif" font-size="31.30" textLength="219.18" lengthAdjust="spacingAndGlyphs" fill="#000" style="font-size-adjust:0.4775">Frequency (THz)</text>
<text x="425.26" y="1130.70" font-family="Carlito, 'Liberation Sans', sans-serif" font-size="33.50" textLength="254.23" lengthAdjust="spacingAndGlyphs" fill="#000" style="font-size-adjust:0.4775">Early Coagulation</text>
<text x="1.30" y="714.10" font-family="'Open Sans', 'DejaVu Sans', 'Liberation Sans', sans-serif" font-size="43.50" textLength="22.04" lengthAdjust="spacingAndGlyphs" fill="#000" style="font-size-adjust:0.535">c</text>
<text transform="translate(113.00,1205.73) rotate(-90)" x="0" y="0" font-family="Carlito, 'Liberation Sans', sans-serif" font-size="30.60" textLength="324.90" lengthAdjust="spacingAndGlyphs" fill="#000" style="font-size-adjust:0.4775">Absorption constant (cm</text>
<text transform="translate(93.90,880.19) rotate(-90)" x="0" y="0" font-family="Carlito, 'Liberation Sans', sans-serif" font-size="19.50" textLength="15.34" lengthAdjust="spacingAndGlyphs" fill="#000" style="font-size-adjust:0.4775">-1</text>
<text transform="translate(113.00,864.27) rotate(-90)" x="0" y="0" font-family="Carlito, 'Liberation Sans', sans-serif" font-size="30.60" textLength="9.45" lengthAdjust="spacingAndGlyphs" fill="#000" style="font-size-adjust:0.4775">)</text>
<g clip-path="url(#clipB)">
<line x1="1027.60" y1="345.57" x2="1027.60" y2="353.93" stroke="#2a2a2a" stroke-width="1.0" stroke-linecap="butt"/>
<line x1="1023.30" y1="345.57" x2="1031.90" y2="345.57" stroke="#2a2a2a" stroke-width="1.0" stroke-linecap="butt"/>
<line x1="1023.30" y1="353.93" x2="1031.90" y2="353.93" stroke="#2a2a2a" stroke-width="1.0" stroke-linecap="butt"/>
<line x1="1032.63" y1="341.87" x2="1032.63" y2="350.97" stroke="#2a2a2a" stroke-width="1.0" stroke-linecap="butt"/>
<line x1="1028.33" y1="341.87" x2="1036.93" y2="341.87" stroke="#2a2a2a" stroke-width="1.0" stroke-linecap="butt"/>
<line x1="1028.33" y1="350.97" x2="1036.93" y2="350.97" stroke="#2a2a2a" stroke-width="1.0" stroke-linecap="butt"/>
<line x1="1037.67" y1="339.29" x2="1037.67" y2="347.79" stroke="#2a2a2a" stroke-width="1.0" stroke-linecap="butt"/>
<line x1="1033.37" y1="339.29" x2="1041.97" y2="339.29" stroke="#2a2a2a" stroke-width="1.0" stroke-linecap="butt"/>
<line x1="1033.37" y1="347.79" x2="1041.97" y2="347.79" stroke="#2a2a2a" stroke-width="1.0" stroke-linecap="butt"/>
<line x1="1042.70" y1="341.30" x2="1042.70" y2="348.30" stroke="#2a2a2a" stroke-width="1.0" stroke-linecap="butt"/>
<line x1="1038.40" y1="341.30" x2="1047.00" y2="341.30" stroke="#2a2a2a" stroke-width="1.0" stroke-linecap="butt"/>
<line x1="1038.40" y1="348.30" x2="1047.00" y2="348.30" stroke="#2a2a2a" stroke-width="1.0" stroke-linecap="butt"/>
<line x1="1047.73" y1="343.56" x2="1047.73" y2="350.34" stroke="#2a2a2a" stroke-width="1.0" stroke-linecap="butt"/>
<line x1="1043.43" y1="343.56" x2="1052.03" y2="343.56" stroke="#2a2a2a" stroke-width="1.0" stroke-linecap="butt"/>
<line x1="1043.43" y1="350.34" x2="1052.03" y2="350.34" stroke="#2a2a2a" stroke-width="1.0" stroke-linecap="butt"/>
<line x1="1052.77" y1="344.31" x2="1052.77" y2="351.26" stroke="#2a2a2a" stroke-width="1.0" stroke-linecap="butt"/>
<line x1="1048.47" y1="344.31" x2="1057.07" y2="344.31" stroke="#2a2a2a" stroke-width="1.0" stroke-linecap="butt"/>
<line x1="1048.47" y1="351.26" x2="1057.07" y2="351.26" stroke="#2a2a2a" stroke-width="1.0" stroke-linecap="butt"/>
<line x1="1057.80" y1="342.60" x2="1057.80" y2="349.67" stroke="#2a2a2a" stroke-width="1.0" stroke-linecap="butt"/>
<line x1="1053.50" y1="342.60" x2="1062.10" y2="342.60" stroke="#2a2a2a" stroke-width="1.0" stroke-linecap="butt"/>
<line x1="1053.50" y1="349.67" x2="1062.10" y2="349.67" stroke="#2a2a2a" stroke-width="1.0" stroke-linecap="butt"/>
<line x1="1062.83" y1="341.07" x2="1062.83" y2="347.28" stroke="#2a2a2a" stroke-width="1.0" stroke-linecap="butt"/>
<line x1="1058.53" y1="341.07" x2="1067.13" y2="341.07" stroke="#2a2a2a" stroke-width="1.0" stroke-linecap="butt"/>
<line x1="1058.53" y1="347.28" x2="1067.13" y2="347.28" stroke="#2a2a2a" stroke-width="1.0" stroke-linecap="butt"/>
<line x1="1067.87" y1="337.75" x2="1067.87" y2="344.28" stroke="#2a2a2a" stroke-width="1.0" stroke-linecap="butt"/>
<line x1="1063.57" y1="337.75" x2="1072.17" y2="337.75" stroke="#2a2a2a" stroke-width="1.0" stroke-linecap="butt"/>
<line x1="1063.57" y1="344.28" x2="1072.17" y2="344.28" stroke="#2a2a2a" stroke-width="1.0" stroke-linecap="butt"/>
<line x1="1072.90" y1="335.05" x2="1072.90" y2="341.47" stroke="#2a2a2a" stroke-width="1.0" stroke-linecap="butt"/>
<line x1="1068.60" y1="335.05" x2="1077.20" y2="335.05" stroke="#2a2a2a" stroke-width="1.0" stroke-linecap="butt"/>
<line x1="1068.60" y1="341.47" x2="1077.20" y2="341.47" stroke="#2a2a2a" stroke-width="1.0" stroke-linecap="butt"/>
<line x1="1077.94" y1="332.66" x2="1077.94" y2="339.30" stroke="#2a2a2a" stroke-width="1.0" stroke-linecap="butt"/>
<line x1="1073.64" y1="332.66" x2="1082.24" y2="332.66" stroke="#2a2a2a" stroke-width="1.0" stroke-linecap="butt"/>
<line x1="1073.64" y1="339.30" x2="1082.24" y2="339.30" stroke="#2a2a2a" stroke-width="1.0" stroke-linecap="butt"/>
<line x1="1082.97" y1="327.80" x2="1082.97" y2="336.28" stroke="#2a2a2a" stroke-width="1.0" stroke-linecap="butt"/>
<line x1="1078.67" y1="327.80" x2="1087.27" y2="327.80" stroke="#2a2a2a" stroke-width="1.0" stroke-linecap="butt"/>
<line x1="1078.67" y1="336.28" x2="1087.27" y2="336.28" stroke="#2a2a2a" stroke-width="1.0" stroke-linecap="butt"/>
<line x1="1088.00" y1="327.01" x2="1088.00" y2="335.59" stroke="#2a2a2a" stroke-width="1.0" stroke-linecap="butt"/>
<line x1="1083.70" y1="327.01" x2="1092.30" y2="327.01" stroke="#2a2a2a" stroke-width="1.0" stroke-linecap="butt"/>
<line x1="1083.70" y1="335.59" x2="1092.30" y2="335.59" stroke="#2a2a2a" stroke-width="1.0" stroke-linecap="butt"/>
<line x1="1093.04" y1="323.99" x2="1093.04" y2="331.56" stroke="#2a2a2a" stroke-width="1.0" stroke-linecap="butt"/>
<line x1="1088.74" y1="323.99" x2="1097.34" y2="323.99" stroke="#2a2a2a" stroke-width="1.0" stroke-linecap="butt"/>
<line x1="1088.74" y1="331.56" x2="1097.34" y2="331.56" stroke="#2a2a2a" stroke-width="1.0" stroke-linecap="butt"/>
<line x1="1098.07" y1="321.54" x2="1098.07" y2="330.64" stroke="#2a2a2a" stroke-width="1.0" stroke-linecap="butt"/>
<line x1="1093.77" y1="321.54" x2="1102.37" y2="321.54" stroke="#2a2a2a" stroke-width="1.0" stroke-linecap="butt"/>
<line x1="1093.77" y1="330.64" x2="1102.37" y2="330.64" stroke="#2a2a2a" stroke-width="1.0" stroke-linecap="butt"/>
<line x1="1103.10" y1="322.08" x2="1103.10" y2="329.59" stroke="#2a2a2a" stroke-width="1.0" stroke-linecap="butt"/>
<line x1="1098.80" y1="322.08" x2="1107.40" y2="322.08" stroke="#2a2a2a" stroke-width="1.0" stroke-linecap="butt"/>
<line x1="1098.80" y1="329.59" x2="1107.40" y2="329.59" stroke="#2a2a2a" stroke-width="1.0" stroke-linecap="butt"/>
<line x1="1108.14" y1="320.83" x2="1108.14" y2="327.76" stroke="#2a2a2a" stroke-width="1.0" stroke-linecap="butt"/>
<line x1="1103.84" y1="320.83" x2="1112.44" y2="320.83" stroke="#2a2a2a" stroke-width="1.0" stroke-linecap="butt"/>
<line x1="1103.84" y1="327.76" x2="1112.44" y2="327.76" stroke="#2a2a2a" stroke-width="1.0" stroke-linecap="butt"/>
<line x1="1113.17" y1="316.41" x2="1113.17" y2="322.88" stroke="#2a2a2a" stroke-width="1.0" stroke-linecap="butt"/>
<line x1="1108.87" y1="316.41" x2="1117.47" y2="316.41" stroke="#2a2a2a" stroke-width="1.0" stroke-linecap="butt"/>
<line x1="1108.87" y1="322.88" x2="1117.47" y2="322.88" stroke="#2a2a2a" stroke-width="1.0" stroke-linecap="butt"/>
<line x1="1118.20" y1="312.97" x2="1118.20" y2="322.19" stroke="#2a2a2a" stroke-width="1.0" stroke-linecap="butt"/>
<line x1="1113.90" y1="312.97" x2="1122.50" y2="312.97" stroke="#2a2a2a" stroke-width="1.0" stroke-linecap="butt"/>
<line x1="1113.90" y1="322.19" x2="1122.50" y2="322.19" stroke="#2a2a2a" stroke-width="1.0" stroke-linecap="butt"/>
<line x1="1123.24" y1="313.50" x2="1123.24" y2="320.30" stroke="#2a2a2a" stroke-width="1.0" stroke-linecap="butt"/>
<line x1="1118.94" y1="313.50" x2="1127.54" y2="313.50" stroke="#2a2a2a" stroke-width="1.0" stroke-linecap="butt"/>
<line x1="1118.94" y1="320.30" x2="1127.54" y2="320.30" stroke="#2a2a2a" stroke-width="1.0" stroke-linecap="butt"/>
<line x1="1128.27" y1="311.73" x2="1128.27" y2="318.08" stroke="#2a2a2a" stroke-width="1.0" stroke-linecap="butt"/>
<line x1="1123.97" y1="311.73" x2="1132.57" y2="311.73" stroke="#2a2a2a" stroke-width="1.0" stroke-linecap="butt"/>
<line x1="1123.97" y1="318.08" x2="1132.57" y2="318.08" stroke="#2a2a2a" stroke-width="1.0" stroke-linecap="butt"/>
<line x1="1133.30" y1="309.36" x2="1133.30" y2="315.73" stroke="#2a2a2a" stroke-width="1.0" stroke-linecap="butt"/>
<line x1="1129.00" y1="309.36" x2="1137.60" y2="309.36" stroke="#2a2a2a" stroke-width="1.0" stroke-linecap="butt"/>
<line x1="1129.00" y1="315.73" x2="1137.60" y2="315.73" stroke="#2a2a2a" stroke-width="1.0" stroke-linecap="butt"/>
<line x1="1138.34" y1="307.47" x2="1138.34" y2="314.27" stroke="#2a2a2a" stroke-width="1.0" stroke-linecap="butt"/>
<line x1="1134.04" y1="307.47" x2="1142.64" y2="307.47" stroke="#2a2a2a" stroke-width="1.0" stroke-linecap="butt"/>
<line x1="1134.04" y1="314.27" x2="1142.64" y2="314.27" stroke="#2a2a2a" stroke-width="1.0" stroke-linecap="butt"/>
<line x1="1143.37" y1="306.06" x2="1143.37" y2="312.46" stroke="#2a2a2a" stroke-width="1.0" stroke-linecap="butt"/>
<line x1="1139.07" y1="306.06" x2="1147.67" y2="306.06" stroke="#2a2a2a" stroke-width="1.0" stroke-linecap="butt"/>
<line x1="1139.07" y1="312.46" x2="1147.67" y2="312.46" stroke="#2a2a2a" stroke-width="1.0" stroke-linecap="butt"/>
<line x1="1148.41" y1="304.27" x2="1148.41" y2="311.76" stroke="#2a2a2a" stroke-width="1.0" stroke-linecap="butt"/>
<line x1="1144.11" y1="304.27" x2="1152.71" y2="304.27" stroke="#2a2a2a" stroke-width="1.0" stroke-linecap="butt"/>
<line x1="1144.11" y1="311.76" x2="1152.71" y2="311.76" stroke="#2a2a2a" stroke-width="1.0" stroke-linecap="butt"/>
<line x1="1153.44" y1="302.39" x2="1153.44" y2="310.13" stroke="#2a2a2a" stroke-width="1.0" stroke-linecap="butt"/>
<line x1="1149.14" y1="302.39" x2="1157.74" y2="302.39" stroke="#2a2a2a" stroke-width="1.0" stroke-linecap="butt"/>
<line x1="1149.14" y1="310.13" x2="1157.74" y2="310.13" stroke="#2a2a2a" stroke-width="1.0" stroke-linecap="butt"/>
<line x1="1158.47" y1="301.14" x2="1158.47" y2="307.60" stroke="#2a2a2a" stroke-width="1.0" stroke-linecap="butt"/>
<line x1="1154.17" y1="301.14" x2="1162.77" y2="301.14" stroke="#2a2a2a" stroke-width="1.0" stroke-linecap="butt"/>
<line x1="1154.17" y1="307.60" x2="1162.77" y2="307.60" stroke="#2a2a2a" stroke-width="1.0" stroke-linecap="butt"/>
<line x1="1163.51" y1="298.09" x2="1163.51" y2="306.95" stroke="#2a2a2a" stroke-width="1.0" stroke-linecap="butt"/>
<line x1="1159.21" y1="298.09" x2="1167.81" y2="298.09" stroke="#2a2a2a" stroke-width="1.0" stroke-linecap="butt"/>
<line x1="1159.21" y1="306.95" x2="1167.81" y2="306.95" stroke="#2a2a2a" stroke-width="1.0" stroke-linecap="butt"/>
<line x1="1168.54" y1="296.81" x2="1168.54" y2="303.37" stroke="#2a2a2a" stroke-width="1.0" stroke-linecap="butt"/>
<line x1="1164.24" y1="296.81" x2="1172.84" y2="296.81" stroke="#2a2a2a" stroke-width="1.0" stroke-linecap="butt"/>
<line x1="1164.24" y1="303.37" x2="1172.84" y2="303.37" stroke="#2a2a2a" stroke-width="1.0" stroke-linecap="butt"/>
<line x1="1173.57" y1="292.41" x2="1173.57" y2="304.72" stroke="#2a2a2a" stroke-width="1.0" stroke-linecap="butt"/>
<line x1="1169.27" y1="292.41" x2="1177.87" y2="292.41" stroke="#2a2a2a" stroke-width="1.0" stroke-linecap="butt"/>
<line x1="1169.27" y1="304.72" x2="1177.87" y2="304.72" stroke="#2a2a2a" stroke-width="1.0" stroke-linecap="butt"/>
<line x1="1178.61" y1="292.73" x2="1178.61" y2="300.00" stroke="#2a2a2a" stroke-width="1.0" stroke-linecap="butt"/>
<line x1="1174.31" y1="292.73" x2="1182.91" y2="292.73" stroke="#2a2a2a" stroke-width="1.0" stroke-linecap="butt"/>
<line x1="1174.31" y1="300.00" x2="1182.91" y2="300.00" stroke="#2a2a2a" stroke-width="1.0" stroke-linecap="butt"/>
<line x1="1183.64" y1="293.24" x2="1183.64" y2="299.96" stroke="#2a2a2a" stroke-width="1.0" stroke-linecap="butt"/>
<line x1="1179.34" y1="293.24" x2="1187.94" y2="293.24" stroke="#2a2a2a" stroke-width="1.0" stroke-linecap="butt"/>
<line x1="1179.34" y1="299.96" x2="1187.94" y2="299.96" stroke="#2a2a2a" stroke-width="1.0" stroke-linecap="butt"/>
<line x1="1188.67" y1="288.41" x2="1188.67" y2="298.46" stroke="#2a2a2a" stroke-width="1.0" stroke-linecap="butt"/>
<line x1="1184.37" y1="288.41" x2="1192.97" y2="288.41" stroke="#2a2a2a" stroke-width="1.0" stroke-linecap="butt"/>
<line x1="1184.37" y1="298.46" x2="1192.97" y2="298.46" stroke="#2a2a2a" stroke-width="1.0" stroke-linecap="butt"/>
<line x1="1193.71" y1="285.75" x2="1193.71" y2="295.01" stroke="#2a2a2a" stroke-width="1.0" stroke-linecap="butt"/>
<line x1="1189.41" y1="285.75" x2="1198.01" y2="285.75" stroke="#2a2a2a" stroke-width="1.0" stroke-linecap="butt"/>
<line x1="1189.41" y1="295.01" x2="1198.01" y2="295.01" stroke="#2a2a2a" stroke-width="1.0" stroke-linecap="butt"/>
<line x1="1198.74" y1="284.88" x2="1198.74" y2="291.38" stroke="#2a2a2a" stroke-width="1.0" stroke-linecap="butt"/>
<line x1="1194.44" y1="284.88" x2="1203.04" y2="284.88" stroke="#2a2a2a" stroke-width="1.0" stroke-linecap="butt"/>
<line x1="1194.44" y1="291.38" x2="1203.04" y2="291.38" stroke="#2a2a2a" stroke-width="1.0" stroke-linecap="butt"/>
<line x1="1203.77" y1="283.44" x2="1203.77" y2="290.90" stroke="#2a2a2a" stroke-width="1.0" stroke-linecap="butt"/>
<line x1="1199.47" y1="283.44" x2="1208.07" y2="283.44" stroke="#2a2a2a" stroke-width="1.0" stroke-linecap="butt"/>
<line x1="1199.47" y1="290.90" x2="1208.07" y2="290.90" stroke="#2a2a2a" stroke-width="1.0" stroke-linecap="butt"/>
<line x1="1208.81" y1="283.18" x2="1208.81" y2="290.50" stroke="#2a2a2a" stroke-width="1.0" stroke-linecap="butt"/>
<line x1="1204.51" y1="283.18" x2="1213.11" y2="283.18" stroke="#2a2a2a" stroke-width="1.0" stroke-linecap="butt"/>
<line x1="1204.51" y1="290.50" x2="1213.11" y2="290.50" stroke="#2a2a2a" stroke-width="1.0" stroke-linecap="butt"/>
<line x1="1213.84" y1="279.08" x2="1213.84" y2="286.28" stroke="#2a2a2a" stroke-width="1.0" stroke-linecap="butt"/>
<line x1="1209.54" y1="279.08" x2="1218.14" y2="279.08" stroke="#2a2a2a" stroke-width="1.0" stroke-linecap="butt"/>
<line x1="1209.54" y1="286.28" x2="1218.14" y2="286.28" stroke="#2a2a2a" stroke-width="1.0" stroke-linecap="butt"/>
<line x1="1218.88" y1="276.77" x2="1218.88" y2="285.38" stroke="#2a2a2a" stroke-width="1.0" stroke-linecap="butt"/>
<line x1="1214.58" y1="276.77" x2="1223.18" y2="276.77" stroke="#2a2a2a" stroke-width="1.0" stroke-linecap="butt"/>
<line x1="1214.58" y1="285.38" x2="1223.18" y2="285.38" stroke="#2a2a2a" stroke-width="1.0" stroke-linecap="butt"/>
<line x1="1223.91" y1="274.90" x2="1223.91" y2="286.07" stroke="#2a2a2a" stroke-width="1.0" stroke-linecap="butt"/>
<line x1="1219.61" y1="274.90" x2="1228.21" y2="274.90" stroke="#2a2a2a" stroke-width="1.0" stroke-linecap="butt"/>
<line x1="1219.61" y1="286.07" x2="1228.21" y2="286.07" stroke="#2a2a2a" stroke-width="1.0" stroke-linecap="butt"/>
<line x1="1228.94" y1="276.00" x2="1228.94" y2="282.86" stroke="#2a2a2a" stroke-width="1.0" stroke-linecap="butt"/>
<line x1="1224.64" y1="276.00" x2="1233.24" y2="276.00" stroke="#2a2a2a" stroke-width="1.0" stroke-linecap="butt"/>
<line x1="1224.64" y1="282.86" x2="1233.24" y2="282.86" stroke="#2a2a2a" stroke-width="1.0" stroke-linecap="butt"/>
<line x1="1233.98" y1="274.88" x2="1233.98" y2="281.60" stroke="#2a2a2a" stroke-width="1.0" stroke-linecap="butt"/>
<line x1="1229.68" y1="274.88" x2="1238.28" y2="274.88" stroke="#2a2a2a" stroke-width="1.0" stroke-linecap="butt"/>
<line x1="1229.68" y1="281.60" x2="1238.28" y2="281.60" stroke="#2a2a2a" stroke-width="1.0" stroke-linecap="butt"/>
<line x1="1239.01" y1="270.55" x2="1239.01" y2="277.08" stroke="#2a2a2a" stroke-width="1.0" stroke-linecap="butt"/>
<line x1="1234.71" y1="270.55" x2="1243.31" y2="270.55" stroke="#2a2a2a" stroke-width="1.0" stroke-linecap="butt"/>
<line x1="1234.71" y1="277.08" x2="1243.31" y2="277.08" stroke="#2a2a2a" stroke-width="1.0" stroke-linecap="butt"/>
<line x1="1244.04" y1="269.15" x2="1244.04" y2="276.55" stroke="#2a2a2a" stroke-width="1.0" stroke-linecap="butt"/>
<line x1="1239.74" y1="269.15" x2="1248.34" y2="269.15" stroke="#2a2a2a" stroke-width="1.0" stroke-linecap="butt"/>
<line x1="1239.74" y1="276.55" x2="1248.34" y2="276.55" stroke="#2a2a2a" stroke-width="1.0" stroke-linecap="butt"/>
<line x1="1249.08" y1="268.38" x2="1249.08" y2="275.00" stroke="#2a2a2a" stroke-width="1.0" stroke-linecap="butt"/>
<line x1="1244.78" y1="268.38" x2="1253.38" y2="268.38" stroke="#2a2a2a" stroke-width="1.0" stroke-linecap="butt"/>
<line x1="1244.78" y1="275.00" x2="1253.38" y2="275.00" stroke="#2a2a2a" stroke-width="1.0" stroke-linecap="butt"/>
<line x1="1254.11" y1="264.42" x2="1254.11" y2="272.52" stroke="#2a2a2a" stroke-width="1.0" stroke-linecap="butt"/>
<line x1="1249.81" y1="264.42" x2="1258.41" y2="264.42" stroke="#2a2a2a" stroke-width="1.0" stroke-linecap="butt"/>
<line x1="1249.81" y1="272.52" x2="1258.41" y2="272.52" stroke="#2a2a2a" stroke-width="1.0" stroke-linecap="butt"/>
<line x1="1259.14" y1="261.35" x2="1259.14" y2="268.95" stroke="#2a2a2a" stroke-width="1.0" stroke-linecap="butt"/>
<line x1="1254.84" y1="261.35" x2="1263.44" y2="261.35" stroke="#2a2a2a" stroke-width="1.0" stroke-linecap="butt"/>
<line x1="1254.84" y1="268.95" x2="1263.44" y2="268.95" stroke="#2a2a2a" stroke-width="1.0" stroke-linecap="butt"/>
<line x1="1264.18" y1="261.52" x2="1264.18" y2="269.39" stroke="#2a2a2a" stroke-width="1.0" stroke-linecap="butt"/>
<line x1="1259.88" y1="261.52" x2="1268.48" y2="261.52" stroke="#2a2a2a" stroke-width="1.0" stroke-linecap="butt"/>
<line x1="1259.88" y1="269.39" x2="1268.48" y2="269.39" stroke="#2a2a2a" stroke-width="1.0" stroke-linecap="butt"/>
<line x1="1269.21" y1="256.57" x2="1269.21" y2="263.72" stroke="#2a2a2a" stroke-width="1.0" stroke-linecap="butt"/>
<line x1="1264.91" y1="256.57" x2="1273.51" y2="256.57" stroke="#2a2a2a" stroke-width="1.0" stroke-linecap="butt"/>
<line x1="1264.91" y1="263.72" x2="1273.51" y2="263.72" stroke="#2a2a2a" stroke-width="1.0" stroke-linecap="butt"/>
<line x1="1274.24" y1="254.49" x2="1274.24" y2="264.22" stroke="#2a2a2a" stroke-width="1.0" stroke-linecap="butt"/>
<line x1="1269.94" y1="254.49" x2="1278.54" y2="254.49" stroke="#2a2a2a" stroke-width="1.0" stroke-linecap="butt"/>
<line x1="1269.94" y1="264.22" x2="1278.54" y2="264.22" stroke="#2a2a2a" stroke-width="1.0" stroke-linecap="butt"/>
<line x1="1279.28" y1="254.33" x2="1279.28" y2="262.28" stroke="#2a2a2a" stroke-width="1.0" stroke-linecap="butt"/>
<line x1="1274.98" y1="254.33" x2="1283.58" y2="254.33" stroke="#2a2a2a" stroke-width="1.0" stroke-linecap="butt"/>
<line x1="1274.98" y1="262.28" x2="1283.58" y2="262.28" stroke="#2a2a2a" stroke-width="1.0" stroke-linecap="butt"/>
<line x1="1284.31" y1="251.61" x2="1284.31" y2="259.28" stroke="#2a2a2a" stroke-width="1.0" stroke-linecap="butt"/>
<line x1="1280.01" y1="251.61" x2="1288.61" y2="251.61" stroke="#2a2a2a" stroke-width="1.0" stroke-linecap="butt"/>
<line x1="1280.01" y1="259.28" x2="1288.61" y2="259.28" stroke="#2a2a2a" stroke-width="1.0" stroke-linecap="butt"/>
<line x1="1289.35" y1="247.06" x2="1289.35" y2="257.10" stroke="#2a2a2a" stroke-width="1.0" stroke-linecap="butt"/>
<line x1="1285.05" y1="247.06" x2="1293.65" y2="247.06" stroke="#2a2a2a" stroke-width="1.0" stroke-linecap="butt"/>
<line x1="1285.05" y1="257.10" x2="1293.65" y2="257.10" stroke="#2a2a2a" stroke-width="1.0" stroke-linecap="butt"/>
<line x1="1294.38" y1="241.85" x2="1294.38" y2="251.45" stroke="#2a2a2a" stroke-width="1.0" stroke-linecap="butt"/>
<line x1="1290.08" y1="241.85" x2="1298.68" y2="241.85" stroke="#2a2a2a" stroke-width="1.0" stroke-linecap="butt"/>
<line x1="1290.08" y1="251.45" x2="1298.68" y2="251.45" stroke="#2a2a2a" stroke-width="1.0" stroke-linecap="butt"/>
<line x1="1299.41" y1="230.93" x2="1299.41" y2="254.32" stroke="#2a2a2a" stroke-width="1.0" stroke-linecap="butt"/>
<line x1="1295.11" y1="230.93" x2="1303.71" y2="230.93" stroke="#2a2a2a" stroke-width="1.0" stroke-linecap="butt"/>
<line x1="1295.11" y1="254.32" x2="1303.71" y2="254.32" stroke="#2a2a2a" stroke-width="1.0" stroke-linecap="butt"/>
<line x1="1304.45" y1="230.69" x2="1304.45" y2="257.04" stroke="#2a2a2a" stroke-width="1.0" stroke-linecap="butt"/>
<line x1="1300.15" y1="230.69" x2="1308.75" y2="230.69" stroke="#2a2a2a" stroke-width="1.0" stroke-linecap="butt"/>
<line x1="1300.15" y1="257.04" x2="1308.75" y2="257.04" stroke="#2a2a2a" stroke-width="1.0" stroke-linecap="butt"/>
<line x1="1309.48" y1="227.86" x2="1309.48" y2="251.40" stroke="#2a2a2a" stroke-width="1.0" stroke-linecap="butt"/>
<line x1="1305.18" y1="227.86" x2="1313.78" y2="227.86" stroke="#2a2a2a" stroke-width="1.0" stroke-linecap="butt"/>
<line x1="1305.18" y1="251.40" x2="1313.78" y2="251.40" stroke="#2a2a2a" stroke-width="1.0" stroke-linecap="butt"/>
<line x1="1314.51" y1="226.93" x2="1314.51" y2="252.42" stroke="#2a2a2a" stroke-width="1.0" stroke-linecap="butt"/>
<line x1="1310.21" y1="226.93" x2="1318.81" y2="226.93" stroke="#2a2a2a" stroke-width="1.0" stroke-linecap="butt"/>
<line x1="1310.21" y1="252.42" x2="1318.81" y2="252.42" stroke="#2a2a2a" stroke-width="1.0" stroke-linecap="butt"/>
<line x1="1319.55" y1="225.84" x2="1319.55" y2="250.42" stroke="#2a2a2a" stroke-width="1.0" stroke-linecap="butt"/>
<line x1="1315.25" y1="225.84" x2="1323.85" y2="225.84" stroke="#2a2a2a" stroke-width="1.0" stroke-linecap="butt"/>
<line x1="1315.25" y1="250.42" x2="1323.85" y2="250.42" stroke="#2a2a2a" stroke-width="1.0" stroke-linecap="butt"/>
<line x1="1324.58" y1="234.95" x2="1324.58" y2="244.30" stroke="#2a2a2a" stroke-width="1.0" stroke-linecap="butt"/>
<line x1="1320.28" y1="234.95" x2="1328.88" y2="234.95" stroke="#2a2a2a" stroke-width="1.0" stroke-linecap="butt"/>
<line x1="1320.28" y1="244.30" x2="1328.88" y2="244.30" stroke="#2a2a2a" stroke-width="1.0" stroke-linecap="butt"/>
<line x1="1329.61" y1="231.99" x2="1329.61" y2="242.45" stroke="#2a2a2a" stroke-width="1.0" stroke-linecap="butt"/>
<line x1="1325.31" y1="231.99" x2="1333.91" y2="231.99" stroke="#2a2a2a" stroke-width="1.0" stroke-linecap="butt"/>
<line x1="1325.31" y1="242.45" x2="1333.91" y2="242.45" stroke="#2a2a2a" stroke-width="1.0" stroke-linecap="butt"/>
<line x1="1334.65" y1="229.10" x2="1334.65" y2="239.17" stroke="#2a2a2a" stroke-width="1.0" stroke-linecap="butt"/>
<line x1="1330.35" y1="229.10" x2="1338.95" y2="229.10" stroke="#2a2a2a" stroke-width="1.0" stroke-linecap="butt"/>
<line x1="1330.35" y1="239.17" x2="1338.95" y2="239.17" stroke="#2a2a2a" stroke-width="1.0" stroke-linecap="butt"/>
<line x1="1339.68" y1="225.14" x2="1339.68" y2="235.92" stroke="#2a2a2a" stroke-width="1.0" stroke-linecap="butt"/>
<line x1="1335.38" y1="225.14" x2="1343.98" y2="225.14" stroke="#2a2a2a" stroke-width="1.0" stroke-linecap="butt"/>
<line x1="1335.38" y1="235.92" x2="1343.98" y2="235.92" stroke="#2a2a2a" stroke-width="1.0" stroke-linecap="butt"/>
<line x1="1344.71" y1="223.48" x2="1344.71" y2="232.15" stroke="#2a2a2a" stroke-width="1.0" stroke-linecap="butt"/>
<line x1="1340.41" y1="223.48" x2="1349.01" y2="223.48" stroke="#2a2a2a" stroke-width="1.0" stroke-linecap="butt"/>
<line x1="1340.41" y1="232.15" x2="1349.01" y2="232.15" stroke="#2a2a2a" stroke-width="1.0" stroke-linecap="butt"/>
<line x1="1349.75" y1="220.54" x2="1349.75" y2="230.24" stroke="#2a2a2a" stroke-width="1.0" stroke-linecap="butt"/>
<line x1="1345.45" y1="220.54" x2="1354.05" y2="220.54" stroke="#2a2a2a" stroke-width="1.0" stroke-linecap="butt"/>
<line x1="1345.45" y1="230.24" x2="1354.05" y2="230.24" stroke="#2a2a2a" stroke-width="1.0" stroke-linecap="butt"/>
<line x1="1354.78" y1="218.30" x2="1354.78" y2="227.49" stroke="#2a2a2a" stroke-width="1.0" stroke-linecap="butt"/>
<line x1="1350.48" y1="218.30" x2="1359.08" y2="218.30" stroke="#2a2a2a" stroke-width="1.0" stroke-linecap="butt"/>
<line x1="1350.48" y1="227.49" x2="1359.08" y2="227.49" stroke="#2a2a2a" stroke-width="1.0" stroke-linecap="butt"/>
<line x1="1359.82" y1="215.40" x2="1359.82" y2="226.02" stroke="#2a2a2a" stroke-width="1.0" stroke-linecap="butt"/>
<line x1="1355.52" y1="215.40" x2="1364.12" y2="215.40" stroke="#2a2a2a" stroke-width="1.0" stroke-linecap="butt"/>
<line x1="1355.52" y1="226.02" x2="1364.12" y2="226.02" stroke="#2a2a2a" stroke-width="1.0" stroke-linecap="butt"/>
<line x1="1364.85" y1="213.73" x2="1364.85" y2="223.27" stroke="#2a2a2a" stroke-width="1.0" stroke-linecap="butt"/>
<line x1="1360.55" y1="213.73" x2="1369.15" y2="213.73" stroke="#2a2a2a" stroke-width="1.0" stroke-linecap="butt"/>
<line x1="1360.55" y1="223.27" x2="1369.15" y2="223.27" stroke="#2a2a2a" stroke-width="1.0" stroke-linecap="butt"/>
<line x1="1369.88" y1="208.93" x2="1369.88" y2="219.44" stroke="#2a2a2a" stroke-width="1.0" stroke-linecap="butt"/>
<line x1="1365.58" y1="208.93" x2="1374.18" y2="208.93" stroke="#2a2a2a" stroke-width="1.0" stroke-linecap="butt"/>
<line x1="1365.58" y1="219.44" x2="1374.18" y2="219.44" stroke="#2a2a2a" stroke-width="1.0" stroke-linecap="butt"/>
<line x1="1374.92" y1="204.92" x2="1374.92" y2="214.33" stroke="#2a2a2a" stroke-width="1.0" stroke-linecap="butt"/>
<line x1="1370.62" y1="204.92" x2="1379.22" y2="204.92" stroke="#2a2a2a" stroke-width="1.0" stroke-linecap="butt"/>
<line x1="1370.62" y1="214.33" x2="1379.22" y2="214.33" stroke="#2a2a2a" stroke-width="1.0" stroke-linecap="butt"/>
<line x1="1379.95" y1="204.96" x2="1379.95" y2="215.33" stroke="#2a2a2a" stroke-width="1.0" stroke-linecap="butt"/>
<line x1="1375.65" y1="204.96" x2="1384.25" y2="204.96" stroke="#2a2a2a" stroke-width="1.0" stroke-linecap="butt"/>
<line x1="1375.65" y1="215.33" x2="1384.25" y2="215.33" stroke="#2a2a2a" stroke-width="1.0" stroke-linecap="butt"/>
<line x1="1384.98" y1="207.17" x2="1384.98" y2="217.40" stroke="#2a2a2a" stroke-width="1.0" stroke-linecap="butt"/>
<line x1="1380.68" y1="207.17" x2="1389.28" y2="207.17" stroke="#2a2a2a" stroke-width="1.0" stroke-linecap="butt"/>
<line x1="1380.68" y1="217.40" x2="1389.28" y2="217.40" stroke="#2a2a2a" stroke-width="1.0" stroke-linecap="butt"/>
<line x1="1390.02" y1="199.74" x2="1390.02" y2="212.08" stroke="#2a2a2a" stroke-width="1.0" stroke-linecap="butt"/>
<line x1="1385.72" y1="199.74" x2="1394.32" y2="199.74" stroke="#2a2a2a" stroke-width="1.0" stroke-linecap="butt"/>
<line x1="1385.72" y1="212.08" x2="1394.32" y2="212.08" stroke="#2a2a2a" stroke-width="1.0" stroke-linecap="butt"/>
<line x1="1395.05" y1="197.66" x2="1395.05" y2="210.43" stroke="#2a2a2a" stroke-width="1.0" stroke-linecap="butt"/>
<line x1="1390.75" y1="197.66" x2="1399.35" y2="197.66" stroke="#2a2a2a" stroke-width="1.0" stroke-linecap="butt"/>
<line x1="1390.75" y1="210.43" x2="1399.35" y2="210.43" stroke="#2a2a2a" stroke-width="1.0" stroke-linecap="butt"/>
<line x1="1400.08" y1="197.34" x2="1400.08" y2="208.32" stroke="#2a2a2a" stroke-width="1.0" stroke-linecap="butt"/>
<line x1="1395.78" y1="197.34" x2="1404.38" y2="197.34" stroke="#2a2a2a" stroke-width="1.0" stroke-linecap="butt"/>
<line x1="1395.78" y1="208.32" x2="1404.38" y2="208.32" stroke="#2a2a2a" stroke-width="1.0" stroke-linecap="butt"/>
<line x1="1405.12" y1="198.55" x2="1405.12" y2="208.57" stroke="#2a2a2a" stroke-width="1.0" stroke-linecap="butt"/>
<line x1="1400.82" y1="198.55" x2="1409.42" y2="198.55" stroke="#2a2a2a" stroke-width="1.0" stroke-linecap="butt"/>
<line x1="1400.82" y1="208.57" x2="1409.42" y2="208.57" stroke="#2a2a2a" stroke-width="1.0" stroke-linecap="butt"/>
<line x1="1410.15" y1="198.32" x2="1410.15" y2="209.61" stroke="#2a2a2a" stroke-width="1.0" stroke-linecap="butt"/>
<line x1="1405.85" y1="198.32" x2="1414.45" y2="198.32" stroke="#2a2a2a" stroke-width="1.0" stroke-linecap="butt"/>
<line x1="1405.85" y1="209.61" x2="1414.45" y2="209.61" stroke="#2a2a2a" stroke-width="1.0" stroke-linecap="butt"/>
<line x1="1415.18" y1="192.04" x2="1415.18" y2="203.11" stroke="#2a2a2a" stroke-width="1.0" stroke-linecap="butt"/>
<line x1="1410.88" y1="192.04" x2="1419.48" y2="192.04" stroke="#2a2a2a" stroke-width="1.0" stroke-linecap="butt"/>
<line x1="1410.88" y1="203.11" x2="1419.48" y2="203.11" stroke="#2a2a2a" stroke-width="1.0" stroke-linecap="butt"/>
<line x1="1420.22" y1="191.43" x2="1420.22" y2="202.86" stroke="#2a2a2a" stroke-width="1.0" stroke-linecap="butt"/>
<line x1="1415.92" y1="191.43" x2="1424.52" y2="191.43" stroke="#2a2a2a" stroke-width="1.0" stroke-linecap="butt"/>
<line x1="1415.92" y1="202.86" x2="1424.52" y2="202.86" stroke="#2a2a2a" stroke-width="1.0" stroke-linecap="butt"/>
<line x1="1425.25" y1="187.84" x2="1425.25" y2="199.42" stroke="#2a2a2a" stroke-width="1.0" stroke-linecap="butt"/>
<line x1="1420.95" y1="187.84" x2="1429.55" y2="187.84" stroke="#2a2a2a" stroke-width="1.0" stroke-linecap="butt"/>
<line x1="1420.95" y1="199.42" x2="1429.55" y2="199.42" stroke="#2a2a2a" stroke-width="1.0" stroke-linecap="butt"/>
<line x1="1430.29" y1="187.05" x2="1430.29" y2="199.69" stroke="#2a2a2a" stroke-width="1.0" stroke-linecap="butt"/>
<line x1="1425.99" y1="187.05" x2="1434.59" y2="187.05" stroke="#2a2a2a" stroke-width="1.0" stroke-linecap="butt"/>
<line x1="1425.99" y1="199.69" x2="1434.59" y2="199.69" stroke="#2a2a2a" stroke-width="1.0" stroke-linecap="butt"/>
<line x1="1435.32" y1="179.86" x2="1435.32" y2="193.63" stroke="#2a2a2a" stroke-width="1.0" stroke-linecap="butt"/>
<line x1="1431.02" y1="179.86" x2="1439.62" y2="179.86" stroke="#2a2a2a" stroke-width="1.0" stroke-linecap="butt"/>
<line x1="1431.02" y1="193.63" x2="1439.62" y2="193.63" stroke="#2a2a2a" stroke-width="1.0" stroke-linecap="butt"/>
<line x1="1440.35" y1="181.98" x2="1440.35" y2="194.05" stroke="#2a2a2a" stroke-width="1.0" stroke-linecap="butt"/>
<line x1="1436.05" y1="181.98" x2="1444.65" y2="181.98" stroke="#2a2a2a" stroke-width="1.0" stroke-linecap="butt"/>
<line x1="1436.05" y1="194.05" x2="1444.65" y2="194.05" stroke="#2a2a2a" stroke-width="1.0" stroke-linecap="butt"/>
<line x1="1445.39" y1="178.87" x2="1445.39" y2="191.63" stroke="#2a2a2a" stroke-width="1.0" stroke-linecap="butt"/>
<line x1="1441.09" y1="178.87" x2="1449.69" y2="178.87" stroke="#2a2a2a" stroke-width="1.0" stroke-linecap="butt"/>
<line x1="1441.09" y1="191.63" x2="1449.69" y2="191.63" stroke="#2a2a2a" stroke-width="1.0" stroke-linecap="butt"/>
<line x1="1450.42" y1="178.51" x2="1450.42" y2="190.19" stroke="#2a2a2a" stroke-width="1.0" stroke-linecap="butt"/>
<line x1="1446.12" y1="178.51" x2="1454.72" y2="178.51" stroke="#2a2a2a" stroke-width="1.0" stroke-linecap="butt"/>
<line x1="1446.12" y1="190.19" x2="1454.72" y2="190.19" stroke="#2a2a2a" stroke-width="1.0" stroke-linecap="butt"/>
<line x1="1455.45" y1="172.85" x2="1455.45" y2="185.26" stroke="#2a2a2a" stroke-width="1.0" stroke-linecap="butt"/>
<line x1="1451.15" y1="172.85" x2="1459.75" y2="172.85" stroke="#2a2a2a" stroke-width="1.0" stroke-linecap="butt"/>
<line x1="1451.15" y1="185.26" x2="1459.75" y2="185.26" stroke="#2a2a2a" stroke-width="1.0" stroke-linecap="butt"/>
<line x1="1460.49" y1="175.15" x2="1460.49" y2="186.56" stroke="#2a2a2a" stroke-width="1.0" stroke-linecap="butt"/>
<line x1="1456.19" y1="175.15" x2="1464.79" y2="175.15" stroke="#2a2a2a" stroke-width="1.0" stroke-linecap="butt"/>
<line x1="1456.19" y1="186.56" x2="1464.79" y2="186.56" stroke="#2a2a2a" stroke-width="1.0" stroke-linecap="butt"/>
<line x1="1465.52" y1="172.11" x2="1465.52" y2="183.54" stroke="#2a2a2a" stroke-width="1.0" stroke-linecap="butt"/>
<line x1="1461.22" y1="172.11" x2="1469.82" y2="172.11" stroke="#2a2a2a" stroke-width="1.0" stroke-linecap="butt"/>
<line x1="1461.22" y1="183.54" x2="1469.82" y2="183.54" stroke="#2a2a2a" stroke-width="1.0" stroke-linecap="butt"/>
<line x1="1470.55" y1="169.65" x2="1470.55" y2="181.21" stroke="#2a2a2a" stroke-width="1.0" stroke-linecap="butt"/>
<line x1="1466.25" y1="169.65" x2="1474.85" y2="169.65" stroke="#2a2a2a" stroke-width="1.0" stroke-linecap="butt"/>
<line x1="1466.25" y1="181.21" x2="1474.85" y2="181.21" stroke="#2a2a2a" stroke-width="1.0" stroke-linecap="butt"/>
<line x1="1475.59" y1="163.00" x2="1475.59" y2="176.70" stroke="#2a2a2a" stroke-width="1.0" stroke-linecap="butt"/>
<line x1="1471.29" y1="163.00" x2="1479.89" y2="163.00" stroke="#2a2a2a" stroke-width="1.0" stroke-linecap="butt"/>
<line x1="1471.29" y1="176.70" x2="1479.89" y2="176.70" stroke="#2a2a2a" stroke-width="1.0" stroke-linecap="butt"/>
<line x1="1480.62" y1="166.13" x2="1480.62" y2="179.16" stroke="#2a2a2a" stroke-width="1.0" stroke-linecap="butt"/>
<line x1="1476.32" y1="166.13" x2="1484.92" y2="166.13" stroke="#2a2a2a" stroke-width="1.0" stroke-linecap="butt"/>
<line x1="1476.32" y1="179.16" x2="1484.92" y2="179.16" stroke="#2a2a2a" stroke-width="1.0" stroke-linecap="butt"/>
<line x1="1485.65" y1="162.52" x2="1485.65" y2="174.78" stroke="#2a2a2a" stroke-width="1.0" stroke-linecap="butt"/>
<line x1="1481.35" y1="162.52" x2="1489.95" y2="162.52" stroke="#2a2a2a" stroke-width="1.0" stroke-linecap="butt"/>
<line x1="1481.35" y1="174.78" x2="1489.95" y2="174.78" stroke="#2a2a2a" stroke-width="1.0" stroke-linecap="butt"/>
<line x1="1490.69" y1="160.55" x2="1490.69" y2="175.04" stroke="#2a2a2a" stroke-width="1.0" stroke-linecap="butt"/>
<line x1="1486.39" y1="160.55" x2="1494.99" y2="160.55" stroke="#2a2a2a" stroke-width="1.0" stroke-linecap="butt"/>
<line x1="1486.39" y1="175.04" x2="1494.99" y2="175.04" stroke="#2a2a2a" stroke-width="1.0" stroke-linecap="butt"/>
<line x1="1495.72" y1="154.71" x2="1495.72" y2="167.42" stroke="#2a2a2a" stroke-width="1.0" stroke-linecap="butt"/>
<line x1="1491.42" y1="154.71" x2="1500.02" y2="154.71" stroke="#2a2a2a" stroke-width="1.0" stroke-linecap="butt"/>
<line x1="1491.42" y1="167.42" x2="1500.02" y2="167.42" stroke="#2a2a2a" stroke-width="1.0" stroke-linecap="butt"/>
<line x1="1500.76" y1="155.67" x2="1500.76" y2="168.15" stroke="#2a2a2a" stroke-width="1.0" stroke-linecap="butt"/>
<line x1="1496.46" y1="155.67" x2="1505.06" y2="155.67" stroke="#2a2a2a" stroke-width="1.0" stroke-linecap="butt"/>
<line x1="1496.46" y1="168.15" x2="1505.06" y2="168.15" stroke="#2a2a2a" stroke-width="1.0" stroke-linecap="butt"/>
<line x1="1505.79" y1="154.12" x2="1505.79" y2="166.62" stroke="#2a2a2a" stroke-width="1.0" stroke-linecap="butt"/>
<line x1="1501.49" y1="154.12" x2="1510.09" y2="154.12" stroke="#2a2a2a" stroke-width="1.0" stroke-linecap="butt"/>
<line x1="1501.49" y1="166.62" x2="1510.09" y2="166.62" stroke="#2a2a2a" stroke-width="1.0" stroke-linecap="butt"/>
<line x1="1510.82" y1="149.68" x2="1510.82" y2="163.18" stroke="#2a2a2a" stroke-width="1.0" stroke-linecap="butt"/>
<line x1="1506.52" y1="149.68" x2="1515.12" y2="149.68" stroke="#2a2a2a" stroke-width="1.0" stroke-linecap="butt"/>
<line x1="1506.52" y1="163.18" x2="1515.12" y2="163.18" stroke="#2a2a2a" stroke-width="1.0" stroke-linecap="butt"/>
<line x1="1515.86" y1="145.15" x2="1515.86" y2="158.70" stroke="#2a2a2a" stroke-width="1.0" stroke-linecap="butt"/>
<line x1="1511.56" y1="145.15" x2="1520.16" y2="145.15" stroke="#2a2a2a" stroke-width="1.0" stroke-linecap="butt"/>
<line x1="1511.56" y1="158.70" x2="1520.16" y2="158.70" stroke="#2a2a2a" stroke-width="1.0" stroke-linecap="butt"/>
<line x1="1520.89" y1="144.71" x2="1520.89" y2="158.04" stroke="#2a2a2a" stroke-width="1.0" stroke-linecap="butt"/>
<line x1="1516.59" y1="144.71" x2="1525.19" y2="144.71" stroke="#2a2a2a" stroke-width="1.0" stroke-linecap="butt"/>
<line x1="1516.59" y1="158.04" x2="1525.19" y2="158.04" stroke="#2a2a2a" stroke-width="1.0" stroke-linecap="butt"/>
<line x1="1525.92" y1="147.97" x2="1525.92" y2="161.26" stroke="#2a2a2a" stroke-width="1.0" stroke-linecap="butt"/>
<line x1="1521.62" y1="147.97" x2="1530.22" y2="147.97" stroke="#2a2a2a" stroke-width="1.0" stroke-linecap="butt"/>
<line x1="1521.62" y1="161.26" x2="1530.22" y2="161.26" stroke="#2a2a2a" stroke-width="1.0" stroke-linecap="butt"/>
<line x1="1530.96" y1="144.27" x2="1530.96" y2="157.12" stroke="#2a2a2a" stroke-width="1.0" stroke-linecap="butt"/>
<line x1="1526.66" y1="144.27" x2="1535.26" y2="144.27" stroke="#2a2a2a" stroke-width="1.0" stroke-linecap="butt"/>
<line x1="1526.66" y1="157.12" x2="1535.26" y2="157.12" stroke="#2a2a2a" stroke-width="1.0" stroke-linecap="butt"/>
<line x1="1535.99" y1="140.00" x2="1535.99" y2="153.29" stroke="#2a2a2a" stroke-width="1.0" stroke-linecap="butt"/>
<line x1="1531.69" y1="140.00" x2="1540.29" y2="140.00" stroke="#2a2a2a" stroke-width="1.0" stroke-linecap="butt"/>
<line x1="1531.69" y1="153.29" x2="1540.29" y2="153.29" stroke="#2a2a2a" stroke-width="1.0" stroke-linecap="butt"/>
<line x1="1541.02" y1="143.36" x2="1541.02" y2="157.13" stroke="#2a2a2a" stroke-width="1.0" stroke-linecap="butt"/>
<line x1="1536.72" y1="143.36" x2="1545.32" y2="143.36" stroke="#2a2a2a" stroke-width="1.0" stroke-linecap="butt"/>
<line x1="1536.72" y1="157.13" x2="1545.32" y2="157.13" stroke="#2a2a2a" stroke-width="1.0" stroke-linecap="butt"/>
<line x1="1546.06" y1="144.87" x2="1546.06" y2="158.53" stroke="#2a2a2a" stroke-width="1.0" stroke-linecap="butt"/>
<line x1="1541.76" y1="144.87" x2="1550.36" y2="144.87" stroke="#2a2a2a" stroke-width="1.0" stroke-linecap="butt"/>
<line x1="1541.76" y1="158.53" x2="1550.36" y2="158.53" stroke="#2a2a2a" stroke-width="1.0" stroke-linecap="butt"/>
<line x1="1551.09" y1="138.40" x2="1551.09" y2="152.59" stroke="#2a2a2a" stroke-width="1.0" stroke-linecap="butt"/>
<line x1="1546.79" y1="138.40" x2="1555.39" y2="138.40" stroke="#2a2a2a" stroke-width="1.0" stroke-linecap="butt"/>
<line x1="1546.79" y1="152.59" x2="1555.39" y2="152.59" stroke="#2a2a2a" stroke-width="1.0" stroke-linecap="butt"/>
<line x1="1556.12" y1="134.51" x2="1556.12" y2="149.81" stroke="#2a2a2a" stroke-width="1.0" stroke-linecap="butt"/>
<line x1="1551.82" y1="134.51" x2="1560.42" y2="134.51" stroke="#2a2a2a" stroke-width="1.0" stroke-linecap="butt"/>
<line x1="1551.82" y1="149.81" x2="1560.42" y2="149.81" stroke="#2a2a2a" stroke-width="1.0" stroke-linecap="butt"/>
<line x1="1561.16" y1="135.26" x2="1561.16" y2="149.49" stroke="#2a2a2a" stroke-width="1.0" stroke-linecap="butt"/>
<line x1="1556.86" y1="135.26" x2="1565.46" y2="135.26" stroke="#2a2a2a" stroke-width="1.0" stroke-linecap="butt"/>
<line x1="1556.86" y1="149.49" x2="1565.46" y2="149.49" stroke="#2a2a2a" stroke-width="1.0" stroke-linecap="butt"/>
<line x1="1566.19" y1="131.36" x2="1566.19" y2="147.75" stroke="#2a2a2a" stroke-width="1.0" stroke-linecap="butt"/>
<line x1="1561.89" y1="131.36" x2="1570.49" y2="131.36" stroke="#2a2a2a" stroke-width="1.0" stroke-linecap="butt"/>
<line x1="1561.89" y1="147.75" x2="1570.49" y2="147.75" stroke="#2a2a2a" stroke-width="1.0" stroke-linecap="butt"/>
<line x1="1571.22" y1="128.03" x2="1571.22" y2="142.39" stroke="#2a2a2a" stroke-width="1.0" stroke-linecap="butt"/>
<line x1="1566.92" y1="128.03" x2="1575.52" y2="128.03" stroke="#2a2a2a" stroke-width="1.0" stroke-linecap="butt"/>
<line x1="1566.92" y1="142.39" x2="1575.52" y2="142.39" stroke="#2a2a2a" stroke-width="1.0" stroke-linecap="butt"/>
<line x1="1576.26" y1="122.91" x2="1576.26" y2="137.17" stroke="#2a2a2a" stroke-width="1.0" stroke-linecap="butt"/>
<line x1="1571.96" y1="122.91" x2="1580.56" y2="122.91" stroke="#2a2a2a" stroke-width="1.0" stroke-linecap="butt"/>
<line x1="1571.96" y1="137.17" x2="1580.56" y2="137.17" stroke="#2a2a2a" stroke-width="1.0" stroke-linecap="butt"/>
<line x1="1581.29" y1="126.80" x2="1581.29" y2="142.16" stroke="#2a2a2a" stroke-width="1.0" stroke-linecap="butt"/>
<line x1="1576.99" y1="126.80" x2="1585.59" y2="126.80" stroke="#2a2a2a" stroke-width="1.0" stroke-linecap="butt"/>
<line x1="1576.99" y1="142.16" x2="1585.59" y2="142.16" stroke="#2a2a2a" stroke-width="1.0" stroke-linecap="butt"/>
<line x1="1586.33" y1="122.20" x2="1586.33" y2="136.51" stroke="#2a2a2a" stroke-width="1.0" stroke-linecap="butt"/>
<line x1="1582.03" y1="122.20" x2="1590.63" y2="122.20" stroke="#2a2a2a" stroke-width="1.0" stroke-linecap="butt"/>
<line x1="1582.03" y1="136.51" x2="1590.63" y2="136.51" stroke="#2a2a2a" stroke-width="1.0" stroke-linecap="butt"/>
<line x1="1591.36" y1="116.44" x2="1591.36" y2="130.57" stroke="#2a2a2a" stroke-width="1.0" stroke-linecap="butt"/>
<line x1="1587.06" y1="116.44" x2="1595.66" y2="116.44" stroke="#2a2a2a" stroke-width="1.0" stroke-linecap="butt"/>
<line x1="1587.06" y1="130.57" x2="1595.66" y2="130.57" stroke="#2a2a2a" stroke-width="1.0" stroke-linecap="butt"/>
<line x1="1596.39" y1="117.26" x2="1596.39" y2="131.98" stroke="#2a2a2a" stroke-width="1.0" stroke-linecap="butt"/>
<line x1="1592.09" y1="117.26" x2="1600.69" y2="117.26" stroke="#2a2a2a" stroke-width="1.0" stroke-linecap="butt"/>
<line x1="1592.09" y1="131.98" x2="1600.69" y2="131.98" stroke="#2a2a2a" stroke-width="1.0" stroke-linecap="butt"/>
<line x1="1601.43" y1="111.34" x2="1601.43" y2="153.65" stroke="#2a2a2a" stroke-width="1.0" stroke-linecap="butt"/>
<line x1="1597.13" y1="111.34" x2="1605.73" y2="111.34" stroke="#2a2a2a" stroke-width="1.0" stroke-linecap="butt"/>
<line x1="1597.13" y1="153.65" x2="1605.73" y2="153.65" stroke="#2a2a2a" stroke-width="1.0" stroke-linecap="butt"/>
<line x1="1606.46" y1="107.14" x2="1606.46" y2="152.68" stroke="#2a2a2a" stroke-width="1.0" stroke-linecap="butt"/>
<line x1="1602.16" y1="107.14" x2="1610.76" y2="107.14" stroke="#2a2a2a" stroke-width="1.0" stroke-linecap="butt"/>
<line x1="1602.16" y1="152.68" x2="1610.76" y2="152.68" stroke="#2a2a2a" stroke-width="1.0" stroke-linecap="butt"/>
<line x1="1611.49" y1="104.98" x2="1611.49" y2="146.75" stroke="#2a2a2a" stroke-width="1.0" stroke-linecap="butt"/>
<line x1="1607.19" y1="104.98" x2="1615.79" y2="104.98" stroke="#2a2a2a" stroke-width="1.0" stroke-linecap="butt"/>
<line x1="1607.19" y1="146.75" x2="1615.79" y2="146.75" stroke="#2a2a2a" stroke-width="1.0" stroke-linecap="butt"/>
<polyline points="1027.6,349.8 1032.6,346.4 1037.7,343.5 1042.7,344.8 1047.7,347.0 1052.8,347.8 1057.8,346.1 1062.8,344.2 1067.9,341.0 1072.9,338.3 1077.9,336.0 1083.0,332.0 1088.0,331.3 1093.0,327.8 1098.1,326.1 1103.1,325.8 1108.1,324.3 1113.2,319.6 1118.2,317.6 1123.2,316.9 1128.3,314.9 1133.3,312.5 1138.3,310.9 1143.4,309.3 1148.4,308.0 1153.4,306.3 1158.5,304.4 1163.5,302.5 1168.5,300.1 1173.6,298.6 1178.6,296.4 1183.6,296.6 1188.7,293.4 1193.7,290.4 1198.7,288.1 1203.8,287.2 1208.8,286.8 1213.8,282.7 1218.9,281.1 1223.9,280.5 1228.9,279.4 1234.0,278.2 1239.0,273.8 1244.0,272.8 1249.1,271.7 1254.1,268.5 1259.1,265.1 1264.2,265.5 1269.2,260.1 1274.2,259.4 1279.3,258.3 1284.3,255.4 1289.3,252.1 1294.4,246.7 1299.4,242.6 1304.4,243.9 1309.5,239.6 1314.5,239.7 1319.5,238.1 1324.6,239.6 1329.6,237.2 1334.6,234.1 1339.7,230.5 1344.7,227.8 1349.7,225.4 1354.8,222.9 1359.8,220.7 1364.8,218.5 1369.9,214.2 1374.9,209.6 1379.9,210.1 1385.0,212.3 1390.0,205.9 1395.1,204.0 1400.1,202.8 1405.1,203.6 1410.2,204.0 1415.2,197.6 1420.2,197.1 1425.3,193.6 1430.3,193.4 1435.3,186.7 1440.4,188.0 1445.4,185.3 1450.4,184.4 1455.5,179.1 1460.5,180.9 1465.5,177.8 1470.6,175.4 1475.6,169.8 1480.6,172.6 1485.7,168.6 1490.7,167.8 1495.7,161.1 1500.8,161.9 1505.8,160.4 1510.8,156.4 1515.9,151.9 1520.9,151.4 1525.9,154.6 1531.0,150.7 1536.0,146.6 1541.0,150.2 1546.1,151.7 1551.1,145.5 1556.1,142.2 1561.2,142.4 1566.2,139.6 1571.2,135.2 1576.3,130.0 1581.3,134.5 1586.3,129.4 1591.4,123.5 1596.4,124.6 1601.4,132.5 1606.5,129.9 1611.5,125.9" fill="none" stroke="#333333" stroke-width="1.0" stroke-linejoin="round" />
<line x1="1027.60" y1="342.15" x2="1027.60" y2="352.80" stroke="#F04040" stroke-width="1.0" stroke-linecap="butt"/>
<line x1="1023.30" y1="342.15" x2="1031.90" y2="342.15" stroke="#F04040" stroke-width="1.0" stroke-linecap="butt"/>
<line x1="1023.30" y1="352.80" x2="1031.90" y2="352.80" stroke="#F04040" stroke-width="1.0" stroke-linecap="butt"/>
<line x1="1032.63" y1="339.14" x2="1032.63" y2="349.89" stroke="#F04040" stroke-width="1.0" stroke-linecap="butt"/>
<line x1="1028.33" y1="339.14" x2="1036.93" y2="339.14" stroke="#F04040" stroke-width="1.0" stroke-linecap="butt"/>
<line x1="1028.33" y1="349.89" x2="1036.93" y2="349.89" stroke="#F04040" stroke-width="1.0" stroke-linecap="butt"/>
<line x1="1037.67" y1="336.83" x2="1037.67" y2="346.80" stroke="#F04040" stroke-width="1.0" stroke-linecap="butt"/>
<line x1="1033.37" y1="336.83" x2="1041.97" y2="336.83" stroke="#F04040" stroke-width="1.0" stroke-linecap="butt"/>
<line x1="1033.37" y1="346.80" x2="1041.97" y2="346.80" stroke="#F04040" stroke-width="1.0" stroke-linecap="butt"/>
<line x1="1042.70" y1="336.37" x2="1042.70" y2="349.12" stroke="#F04040" stroke-width="1.0" stroke-linecap="butt"/>
<line x1="1038.40" y1="336.37" x2="1047.00" y2="336.37" stroke="#F04040" stroke-width="1.0" stroke-linecap="butt"/>
<line x1="1038.40" y1="349.12" x2="1047.00" y2="349.12" stroke="#F04040" stroke-width="1.0" stroke-linecap="butt"/>
<line x1="1047.73" y1="341.05" x2="1047.73" y2="350.30" stroke="#F04040" stroke-width="1.0" stroke-linecap="butt"/>
<line x1="1043.43" y1="341.05" x2="1052.03" y2="341.05" stroke="#F04040" stroke-width="1.0" stroke-linecap="butt"/>
<line x1="1043.43" y1="350.30" x2="1052.03" y2="350.30" stroke="#F04040" stroke-width="1.0" stroke-linecap="butt"/>
<line x1="1052.77" y1="341.00" x2="1052.77" y2="349.49" stroke="#F04040" stroke-width="1.0" stroke-linecap="butt"/>
<line x1="1048.47" y1="341.00" x2="1057.07" y2="341.00" stroke="#F04040" stroke-width="1.0" stroke-linecap="butt"/>
<line x1="1048.47" y1="349.49" x2="1057.07" y2="349.49" stroke="#F04040" stroke-width="1.0" stroke-linecap="butt"/>
<line x1="1057.80" y1="336.88" x2="1057.80" y2="347.99" stroke="#F04040" stroke-width="1.0" stroke-linecap="butt"/>
<line x1="1053.50" y1="336.88" x2="1062.10" y2="336.88" stroke="#F04040" stroke-width="1.0" stroke-linecap="butt"/>
<line x1="1053.50" y1="347.99" x2="1062.10" y2="347.99" stroke="#F04040" stroke-width="1.0" stroke-linecap="butt"/>
<line x1="1062.83" y1="337.52" x2="1062.83" y2="346.57" stroke="#F04040" stroke-width="1.0" stroke-linecap="butt"/>
<line x1="1058.53" y1="337.52" x2="1067.13" y2="337.52" stroke="#F04040" stroke-width="1.0" stroke-linecap="butt"/>
<line x1="1058.53" y1="346.57" x2="1067.13" y2="346.57" stroke="#F04040" stroke-width="1.0" stroke-linecap="butt"/>
<line x1="1067.87" y1="335.66" x2="1067.87" y2="343.17" stroke="#F04040" stroke-width="1.0" stroke-linecap="butt"/>
<line x1="1063.57" y1="335.66" x2="1072.17" y2="335.66" stroke="#F04040" stroke-width="1.0" stroke-linecap="butt"/>
<line x1="1063.57" y1="343.17" x2="1072.17" y2="343.17" stroke="#F04040" stroke-width="1.0" stroke-linecap="butt"/>
<line x1="1072.90" y1="331.88" x2="1072.90" y2="340.29" stroke="#F04040" stroke-width="1.0" stroke-linecap="butt"/>
<line x1="1068.60" y1="331.88" x2="1077.20" y2="331.88" stroke="#F04040" stroke-width="1.0" stroke-linecap="butt"/>
<line x1="1068.60" y1="340.29" x2="1077.20" y2="340.29" stroke="#F04040" stroke-width="1.0" stroke-linecap="butt"/>
<line x1="1077.94" y1="327.36" x2="1077.94" y2="336.62" stroke="#F04040" stroke-width="1.0" stroke-linecap="butt"/>
<line x1="1073.64" y1="327.36" x2="1082.24" y2="327.36" stroke="#F04040" stroke-width="1.0" stroke-linecap="butt"/>
<line x1="1073.64" y1="336.62" x2="1082.24" y2="336.62" stroke="#F04040" stroke-width="1.0" stroke-linecap="butt"/>
<line x1="1082.97" y1="324.26" x2="1082.97" y2="333.40" stroke="#F04040" stroke-width="1.0" stroke-linecap="butt"/>
<line x1="1078.67" y1="324.26" x2="1087.27" y2="324.26" stroke="#F04040" stroke-width="1.0" stroke-linecap="butt"/>
<line x1="1078.67" y1="333.40" x2="1087.27" y2="333.40" stroke="#F04040" stroke-width="1.0" stroke-linecap="butt"/>
<line x1="1088.00" y1="324.65" x2="1088.00" y2="333.44" stroke="#F04040" stroke-width="1.0" stroke-linecap="butt"/>
<line x1="1083.70" y1="324.65" x2="1092.30" y2="324.65" stroke="#F04040" stroke-width="1.0" stroke-linecap="butt"/>
<line x1="1083.70" y1="333.44" x2="1092.30" y2="333.44" stroke="#F04040" stroke-width="1.0" stroke-linecap="butt"/>
<line x1="1093.04" y1="322.46" x2="1093.04" y2="332.86" stroke="#F04040" stroke-width="1.0" stroke-linecap="butt"/>
<line x1="1088.74" y1="322.46" x2="1097.34" y2="322.46" stroke="#F04040" stroke-width="1.0" stroke-linecap="butt"/>
<line x1="1088.74" y1="332.86" x2="1097.34" y2="332.86" stroke="#F04040" stroke-width="1.0" stroke-linecap="butt"/>
<line x1="1098.07" y1="320.18" x2="1098.07" y2="328.78" stroke="#F04040" stroke-width="1.0" stroke-linecap="butt"/>
<line x1="1093.77" y1="320.18" x2="1102.37" y2="320.18" stroke="#F04040" stroke-width="1.0" stroke-linecap="butt"/>
<line x1="1093.77" y1="328.78" x2="1102.37" y2="328.78" stroke="#F04040" stroke-width="1.0" stroke-linecap="butt"/>
<line x1="1103.10" y1="318.61" x2="1103.10" y2="326.95" stroke="#F04040" stroke-width="1.0" stroke-linecap="butt"/>
<line x1="1098.80" y1="318.61" x2="1107.40" y2="318.61" stroke="#F04040" stroke-width="1.0" stroke-linecap="butt"/>
<line x1="1098.80" y1="326.95" x2="1107.40" y2="326.95" stroke="#F04040" stroke-width="1.0" stroke-linecap="butt"/>
<line x1="1108.14" y1="314.81" x2="1108.14" y2="325.46" stroke="#F04040" stroke-width="1.0" stroke-linecap="butt"/>
<line x1="1103.84" y1="314.81" x2="1112.44" y2="314.81" stroke="#F04040" stroke-width="1.0" stroke-linecap="butt"/>
<line x1="1103.84" y1="325.46" x2="1112.44" y2="325.46" stroke="#F04040" stroke-width="1.0" stroke-linecap="butt"/>
<line x1="1113.17" y1="311.60" x2="1113.17" y2="324.87" stroke="#F04040" stroke-width="1.0" stroke-linecap="butt"/>
<line x1="1108.87" y1="311.60" x2="1117.47" y2="311.60" stroke="#F04040" stroke-width="1.0" stroke-linecap="butt"/>
<line x1="1108.87" y1="324.87" x2="1117.47" y2="324.87" stroke="#F04040" stroke-width="1.0" stroke-linecap="butt"/>
<line x1="1118.20" y1="313.73" x2="1118.20" y2="321.72" stroke="#F04040" stroke-width="1.0" stroke-linecap="butt"/>
<line x1="1113.90" y1="313.73" x2="1122.50" y2="313.73" stroke="#F04040" stroke-width="1.0" stroke-linecap="butt"/>
<line x1="1113.90" y1="321.72" x2="1122.50" y2="321.72" stroke="#F04040" stroke-width="1.0" stroke-linecap="butt"/>
<line x1="1123.24" y1="311.14" x2="1123.24" y2="319.50" stroke="#F04040" stroke-width="1.0" stroke-linecap="butt"/>
<line x1="1118.94" y1="311.14" x2="1127.54" y2="311.14" stroke="#F04040" stroke-width="1.0" stroke-linecap="butt"/>
<line x1="1118.94" y1="319.50" x2="1127.54" y2="319.50" stroke="#F04040" stroke-width="1.0" stroke-linecap="butt"/>
<line x1="1128.27" y1="306.99" x2="1128.27" y2="316.95" stroke="#F04040" stroke-width="1.0" stroke-linecap="butt"/>
<line x1="1123.97" y1="306.99" x2="1132.57" y2="306.99" stroke="#F04040" stroke-width="1.0" stroke-linecap="butt"/>
<line x1="1123.97" y1="316.95" x2="1132.57" y2="316.95" stroke="#F04040" stroke-width="1.0" stroke-linecap="butt"/>
<line x1="1133.30" y1="304.09" x2="1133.30" y2="313.26" stroke="#F04040" stroke-width="1.0" stroke-linecap="butt"/>
<line x1="1129.00" y1="304.09" x2="1137.60" y2="304.09" stroke="#F04040" stroke-width="1.0" stroke-linecap="butt"/>
<line x1="1129.00" y1="313.26" x2="1137.60" y2="313.26" stroke="#F04040" stroke-width="1.0" stroke-linecap="butt"/>
<line x1="1138.34" y1="304.43" x2="1138.34" y2="312.35" stroke="#F04040" stroke-width="1.0" stroke-linecap="butt"/>
<line x1="1134.04" y1="304.43" x2="1142.64" y2="304.43" stroke="#F04040" stroke-width="1.0" stroke-linecap="butt"/>
<line x1="1134.04" y1="312.35" x2="1142.64" y2="312.35" stroke="#F04040" stroke-width="1.0" stroke-linecap="butt"/>
<line x1="1143.37" y1="302.41" x2="1143.37" y2="312.16" stroke="#F04040" stroke-width="1.0" stroke-linecap="butt"/>
<line x1="1139.07" y1="302.41" x2="1147.67" y2="302.41" stroke="#F04040" stroke-width="1.0" stroke-linecap="butt"/>
<line x1="1139.07" y1="312.16" x2="1147.67" y2="312.16" stroke="#F04040" stroke-width="1.0" stroke-linecap="butt"/>
<line x1="1148.41" y1="299.24" x2="1148.41" y2="311.08" stroke="#F04040" stroke-width="1.0" stroke-linecap="butt"/>
<line x1="1144.11" y1="299.24" x2="1152.71" y2="299.24" stroke="#F04040" stroke-width="1.0" stroke-linecap="butt"/>
<line x1="1144.11" y1="311.08" x2="1152.71" y2="311.08" stroke="#F04040" stroke-width="1.0" stroke-linecap="butt"/>
<line x1="1153.44" y1="298.63" x2="1153.44" y2="307.41" stroke="#F04040" stroke-width="1.0" stroke-linecap="butt"/>
<line x1="1149.14" y1="298.63" x2="1157.74" y2="298.63" stroke="#F04040" stroke-width="1.0" stroke-linecap="butt"/>
<line x1="1149.14" y1="307.41" x2="1157.74" y2="307.41" stroke="#F04040" stroke-width="1.0" stroke-linecap="butt"/>
<line x1="1158.47" y1="298.24" x2="1158.47" y2="306.08" stroke="#F04040" stroke-width="1.0" stroke-linecap="butt"/>
<line x1="1154.17" y1="298.24" x2="1162.77" y2="298.24" stroke="#F04040" stroke-width="1.0" stroke-linecap="butt"/>
<line x1="1154.17" y1="306.08" x2="1162.77" y2="306.08" stroke="#F04040" stroke-width="1.0" stroke-linecap="butt"/>
<line x1="1163.51" y1="295.11" x2="1163.51" y2="304.66" stroke="#F04040" stroke-width="1.0" stroke-linecap="butt"/>
<line x1="1159.21" y1="295.11" x2="1167.81" y2="295.11" stroke="#F04040" stroke-width="1.0" stroke-linecap="butt"/>
<line x1="1159.21" y1="304.66" x2="1167.81" y2="304.66" stroke="#F04040" stroke-width="1.0" stroke-linecap="butt"/>
<line x1="1168.54" y1="292.96" x2="1168.54" y2="301.21" stroke="#F04040" stroke-width="1.0" stroke-linecap="butt"/>
<line x1="1164.24" y1="292.96" x2="1172.84" y2="292.96" stroke="#F04040" stroke-width="1.0" stroke-linecap="butt"/>
<line x1="1164.24" y1="301.21" x2="1172.84" y2="301.21" stroke="#F04040" stroke-width="1.0" stroke-linecap="butt"/>
<line x1="1173.57" y1="292.93" x2="1173.57" y2="301.86" stroke="#F04040" stroke-width="1.0" stroke-linecap="butt"/>
<line x1="1169.27" y1="292.93" x2="1177.87" y2="292.93" stroke="#F04040" stroke-width="1.0" stroke-linecap="butt"/>
<line x1="1169.27" y1="301.86" x2="1177.87" y2="301.86" stroke="#F04040" stroke-width="1.0" stroke-linecap="butt"/>
<line x1="1178.61" y1="291.22" x2="1178.61" y2="299.82" stroke="#F04040" stroke-width="1.0" stroke-linecap="butt"/>
<line x1="1174.31" y1="291.22" x2="1182.91" y2="291.22" stroke="#F04040" stroke-width="1.0" stroke-linecap="butt"/>
<line x1="1174.31" y1="299.82" x2="1182.91" y2="299.82" stroke="#F04040" stroke-width="1.0" stroke-linecap="butt"/>
<line x1="1183.64" y1="285.98" x2="1183.64" y2="298.27" stroke="#F04040" stroke-width="1.0" stroke-linecap="butt"/>
<line x1="1179.34" y1="285.98" x2="1187.94" y2="285.98" stroke="#F04040" stroke-width="1.0" stroke-linecap="butt"/>
<line x1="1179.34" y1="298.27" x2="1187.94" y2="298.27" stroke="#F04040" stroke-width="1.0" stroke-linecap="butt"/>
<line x1="1188.67" y1="282.91" x2="1188.67" y2="295.84" stroke="#F04040" stroke-width="1.0" stroke-linecap="butt"/>
<line x1="1184.37" y1="282.91" x2="1192.97" y2="282.91" stroke="#F04040" stroke-width="1.0" stroke-linecap="butt"/>
<line x1="1184.37" y1="295.84" x2="1192.97" y2="295.84" stroke="#F04040" stroke-width="1.0" stroke-linecap="butt"/>
<line x1="1193.71" y1="285.21" x2="1193.71" y2="294.46" stroke="#F04040" stroke-width="1.0" stroke-linecap="butt"/>
<line x1="1189.41" y1="285.21" x2="1198.01" y2="285.21" stroke="#F04040" stroke-width="1.0" stroke-linecap="butt"/>
<line x1="1189.41" y1="294.46" x2="1198.01" y2="294.46" stroke="#F04040" stroke-width="1.0" stroke-linecap="butt"/>
<line x1="1198.74" y1="283.86" x2="1198.74" y2="291.41" stroke="#F04040" stroke-width="1.0" stroke-linecap="butt"/>
<line x1="1194.44" y1="283.86" x2="1203.04" y2="283.86" stroke="#F04040" stroke-width="1.0" stroke-linecap="butt"/>
<line x1="1194.44" y1="291.41" x2="1203.04" y2="291.41" stroke="#F04040" stroke-width="1.0" stroke-linecap="butt"/>
<line x1="1203.77" y1="278.70" x2="1203.77" y2="290.18" stroke="#F04040" stroke-width="1.0" stroke-linecap="butt"/>
<line x1="1199.47" y1="278.70" x2="1208.07" y2="278.70" stroke="#F04040" stroke-width="1.0" stroke-linecap="butt"/>
<line x1="1199.47" y1="290.18" x2="1208.07" y2="290.18" stroke="#F04040" stroke-width="1.0" stroke-linecap="butt"/>
<line x1="1208.81" y1="277.50" x2="1208.81" y2="286.76" stroke="#F04040" stroke-width="1.0" stroke-linecap="butt"/>
<line x1="1204.51" y1="277.50" x2="1213.11" y2="277.50" stroke="#F04040" stroke-width="1.0" stroke-linecap="butt"/>
<line x1="1204.51" y1="286.76" x2="1213.11" y2="286.76" stroke="#F04040" stroke-width="1.0" stroke-linecap="butt"/>
<line x1="1213.84" y1="278.99" x2="1213.84" y2="286.52" stroke="#F04040" stroke-width="1.0" stroke-linecap="butt"/>
<line x1="1209.54" y1="278.99" x2="1218.14" y2="278.99" stroke="#F04040" stroke-width="1.0" stroke-linecap="butt"/>
<line x1="1209.54" y1="286.52" x2="1218.14" y2="286.52" stroke="#F04040" stroke-width="1.0" stroke-linecap="butt"/>
<line x1="1218.88" y1="275.48" x2="1218.88" y2="284.14" stroke="#F04040" stroke-width="1.0" stroke-linecap="butt"/>
<line x1="1214.58" y1="275.48" x2="1223.18" y2="275.48" stroke="#F04040" stroke-width="1.0" stroke-linecap="butt"/>
<line x1="1214.58" y1="284.14" x2="1223.18" y2="284.14" stroke="#F04040" stroke-width="1.0" stroke-linecap="butt"/>
<line x1="1223.91" y1="270.94" x2="1223.91" y2="279.33" stroke="#F04040" stroke-width="1.0" stroke-linecap="butt"/>
<line x1="1219.61" y1="270.94" x2="1228.21" y2="270.94" stroke="#F04040" stroke-width="1.0" stroke-linecap="butt"/>
<line x1="1219.61" y1="279.33" x2="1228.21" y2="279.33" stroke="#F04040" stroke-width="1.0" stroke-linecap="butt"/>
<line x1="1228.94" y1="269.29" x2="1228.94" y2="281.66" stroke="#F04040" stroke-width="1.0" stroke-linecap="butt"/>
<line x1="1224.64" y1="269.29" x2="1233.24" y2="269.29" stroke="#F04040" stroke-width="1.0" stroke-linecap="butt"/>
<line x1="1224.64" y1="281.66" x2="1233.24" y2="281.66" stroke="#F04040" stroke-width="1.0" stroke-linecap="butt"/>
<line x1="1233.98" y1="270.41" x2="1233.98" y2="280.31" stroke="#F04040" stroke-width="1.0" stroke-linecap="butt"/>
<line x1="1229.68" y1="270.41" x2="1238.28" y2="270.41" stroke="#F04040" stroke-width="1.0" stroke-linecap="butt"/>
<line x1="1229.68" y1="280.31" x2="1238.28" y2="280.31" stroke="#F04040" stroke-width="1.0" stroke-linecap="butt"/>
<line x1="1239.01" y1="266.92" x2="1239.01" y2="278.99" stroke="#F04040" stroke-width="1.0" stroke-linecap="butt"/>
<line x1="1234.71" y1="266.92" x2="1243.31" y2="266.92" stroke="#F04040" stroke-width="1.0" stroke-linecap="butt"/>
<line x1="1234.71" y1="278.99" x2="1243.31" y2="278.99" stroke="#F04040" stroke-width="1.0" stroke-linecap="butt"/>
<line x1="1244.04" y1="264.15" x2="1244.04" y2="278.24" stroke="#F04040" stroke-width="1.0" stroke-linecap="butt"/>
<line x1="1239.74" y1="264.15" x2="1248.34" y2="264.15" stroke="#F04040" stroke-width="1.0" stroke-linecap="butt"/>
<line x1="1239.74" y1="278.24" x2="1248.34" y2="278.24" stroke="#F04040" stroke-width="1.0" stroke-linecap="butt"/>
<line x1="1249.08" y1="264.92" x2="1249.08" y2="276.53" stroke="#F04040" stroke-width="1.0" stroke-linecap="butt"/>
<line x1="1244.78" y1="264.92" x2="1253.38" y2="264.92" stroke="#F04040" stroke-width="1.0" stroke-linecap="butt"/>
<line x1="1244.78" y1="276.53" x2="1253.38" y2="276.53" stroke="#F04040" stroke-width="1.0" stroke-linecap="butt"/>
<line x1="1254.11" y1="259.81" x2="1254.11" y2="272.07" stroke="#F04040" stroke-width="1.0" stroke-linecap="butt"/>
<line x1="1249.81" y1="259.81" x2="1258.41" y2="259.81" stroke="#F04040" stroke-width="1.0" stroke-linecap="butt"/>
<line x1="1249.81" y1="272.07" x2="1258.41" y2="272.07" stroke="#F04040" stroke-width="1.0" stroke-linecap="butt"/>
<line x1="1259.14" y1="256.28" x2="1259.14" y2="268.91" stroke="#F04040" stroke-width="1.0" stroke-linecap="butt"/>
<line x1="1254.84" y1="256.28" x2="1263.44" y2="256.28" stroke="#F04040" stroke-width="1.0" stroke-linecap="butt"/>
<line x1="1254.84" y1="268.91" x2="1263.44" y2="268.91" stroke="#F04040" stroke-width="1.0" stroke-linecap="butt"/>
<line x1="1264.18" y1="257.16" x2="1264.18" y2="268.13" stroke="#F04040" stroke-width="1.0" stroke-linecap="butt"/>
<line x1="1259.88" y1="257.16" x2="1268.48" y2="257.16" stroke="#F04040" stroke-width="1.0" stroke-linecap="butt"/>
<line x1="1259.88" y1="268.13" x2="1268.48" y2="268.13" stroke="#F04040" stroke-width="1.0" stroke-linecap="butt"/>
<line x1="1269.21" y1="254.82" x2="1269.21" y2="268.52" stroke="#F04040" stroke-width="1.0" stroke-linecap="butt"/>
<line x1="1264.91" y1="254.82" x2="1273.51" y2="254.82" stroke="#F04040" stroke-width="1.0" stroke-linecap="butt"/>
<line x1="1264.91" y1="268.52" x2="1273.51" y2="268.52" stroke="#F04040" stroke-width="1.0" stroke-linecap="butt"/>
<line x1="1274.24" y1="249.65" x2="1274.24" y2="263.73" stroke="#F04040" stroke-width="1.0" stroke-linecap="butt"/>
<line x1="1269.94" y1="249.65" x2="1278.54" y2="249.65" stroke="#F04040" stroke-width="1.0" stroke-linecap="butt"/>
<line x1="1269.94" y1="263.73" x2="1278.54" y2="263.73" stroke="#F04040" stroke-width="1.0" stroke-linecap="butt"/>
<line x1="1279.28" y1="246.91" x2="1279.28" y2="259.74" stroke="#F04040" stroke-width="1.0" stroke-linecap="butt"/>
<line x1="1274.98" y1="246.91" x2="1283.58" y2="246.91" stroke="#F04040" stroke-width="1.0" stroke-linecap="butt"/>
<line x1="1274.98" y1="259.74" x2="1283.58" y2="259.74" stroke="#F04040" stroke-width="1.0" stroke-linecap="butt"/>
<line x1="1284.31" y1="244.62" x2="1284.31" y2="258.55" stroke="#F04040" stroke-width="1.0" stroke-linecap="butt"/>
<line x1="1280.01" y1="244.62" x2="1288.61" y2="244.62" stroke="#F04040" stroke-width="1.0" stroke-linecap="butt"/>
<line x1="1280.01" y1="258.55" x2="1288.61" y2="258.55" stroke="#F04040" stroke-width="1.0" stroke-linecap="butt"/>
<line x1="1289.35" y1="241.80" x2="1289.35" y2="255.11" stroke="#F04040" stroke-width="1.0" stroke-linecap="butt"/>
<line x1="1285.05" y1="241.80" x2="1293.65" y2="241.80" stroke="#F04040" stroke-width="1.0" stroke-linecap="butt"/>
<line x1="1285.05" y1="255.11" x2="1293.65" y2="255.11" stroke="#F04040" stroke-width="1.0" stroke-linecap="butt"/>
<line x1="1294.38" y1="236.12" x2="1294.38" y2="251.08" stroke="#F04040" stroke-width="1.0" stroke-linecap="butt"/>
<line x1="1290.08" y1="236.12" x2="1298.68" y2="236.12" stroke="#F04040" stroke-width="1.0" stroke-linecap="butt"/>
<line x1="1290.08" y1="251.08" x2="1298.68" y2="251.08" stroke="#F04040" stroke-width="1.0" stroke-linecap="butt"/>
<line x1="1299.41" y1="235.60" x2="1299.41" y2="252.84" stroke="#F04040" stroke-width="1.0" stroke-linecap="butt"/>
<line x1="1295.11" y1="235.60" x2="1303.71" y2="235.60" stroke="#F04040" stroke-width="1.0" stroke-linecap="butt"/>
<line x1="1295.11" y1="252.84" x2="1303.71" y2="252.84" stroke="#F04040" stroke-width="1.0" stroke-linecap="butt"/>
<line x1="1304.45" y1="234.08" x2="1304.45" y2="248.34" stroke="#F04040" stroke-width="1.0" stroke-linecap="butt"/>
<line x1="1300.15" y1="234.08" x2="1308.75" y2="234.08" stroke="#F04040" stroke-width="1.0" stroke-linecap="butt"/>
<line x1="1300.15" y1="248.34" x2="1308.75" y2="248.34" stroke="#F04040" stroke-width="1.0" stroke-linecap="butt"/>
<line x1="1309.48" y1="227.36" x2="1309.48" y2="241.81" stroke="#F04040" stroke-width="1.0" stroke-linecap="butt"/>
<line x1="1305.18" y1="227.36" x2="1313.78" y2="227.36" stroke="#F04040" stroke-width="1.0" stroke-linecap="butt"/>
<line x1="1305.18" y1="241.81" x2="1313.78" y2="241.81" stroke="#F04040" stroke-width="1.0" stroke-linecap="butt"/>
<line x1="1314.51" y1="225.32" x2="1314.51" y2="240.87" stroke="#F04040" stroke-width="1.0" stroke-linecap="butt"/>
<line x1="1310.21" y1="225.32" x2="1318.81" y2="225.32" stroke="#F04040" stroke-width="1.0" stroke-linecap="butt"/>
<line x1="1310.21" y1="240.87" x2="1318.81" y2="240.87" stroke="#F04040" stroke-width="1.0" stroke-linecap="butt"/>
<line x1="1319.55" y1="227.59" x2="1319.55" y2="246.67" stroke="#F04040" stroke-width="1.0" stroke-linecap="butt"/>
<line x1="1315.25" y1="227.59" x2="1323.85" y2="227.59" stroke="#F04040" stroke-width="1.0" stroke-linecap="butt"/>
<line x1="1315.25" y1="246.67" x2="1323.85" y2="246.67" stroke="#F04040" stroke-width="1.0" stroke-linecap="butt"/>
<line x1="1324.58" y1="225.36" x2="1324.58" y2="246.08" stroke="#F04040" stroke-width="1.0" stroke-linecap="butt"/>
<line x1="1320.28" y1="225.36" x2="1328.88" y2="225.36" stroke="#F04040" stroke-width="1.0" stroke-linecap="butt"/>
<line x1="1320.28" y1="246.08" x2="1328.88" y2="246.08" stroke="#F04040" stroke-width="1.0" stroke-linecap="butt"/>
<line x1="1329.61" y1="223.98" x2="1329.61" y2="240.75" stroke="#F04040" stroke-width="1.0" stroke-linecap="butt"/>
<line x1="1325.31" y1="223.98" x2="1333.91" y2="223.98" stroke="#F04040" stroke-width="1.0" stroke-linecap="butt"/>
<line x1="1325.31" y1="240.75" x2="1333.91" y2="240.75" stroke="#F04040" stroke-width="1.0" stroke-linecap="butt"/>
<line x1="1334.65" y1="219.86" x2="1334.65" y2="237.56" stroke="#F04040" stroke-width="1.0" stroke-linecap="butt"/>
<line x1="1330.35" y1="219.86" x2="1338.95" y2="219.86" stroke="#F04040" stroke-width="1.0" stroke-linecap="butt"/>
<line x1="1330.35" y1="237.56" x2="1338.95" y2="237.56" stroke="#F04040" stroke-width="1.0" stroke-linecap="butt"/>
<line x1="1339.68" y1="221.25" x2="1339.68" y2="238.14" stroke="#F04040" stroke-width="1.0" stroke-linecap="butt"/>
<line x1="1335.38" y1="221.25" x2="1343.98" y2="221.25" stroke="#F04040" stroke-width="1.0" stroke-linecap="butt"/>
<line x1="1335.38" y1="238.14" x2="1343.98" y2="238.14" stroke="#F04040" stroke-width="1.0" stroke-linecap="butt"/>
<line x1="1344.71" y1="218.09" x2="1344.71" y2="235.81" stroke="#F04040" stroke-width="1.0" stroke-linecap="butt"/>
<line x1="1340.41" y1="218.09" x2="1349.01" y2="218.09" stroke="#F04040" stroke-width="1.0" stroke-linecap="butt"/>
<line x1="1340.41" y1="235.81" x2="1349.01" y2="235.81" stroke="#F04040" stroke-width="1.0" stroke-linecap="butt"/>
<line x1="1349.75" y1="212.07" x2="1349.75" y2="231.20" stroke="#F04040" stroke-width="1.0" stroke-linecap="butt"/>
<line x1="1345.45" y1="212.07" x2="1354.05" y2="212.07" stroke="#F04040" stroke-width="1.0" stroke-linecap="butt"/>
<line x1="1345.45" y1="231.20" x2="1354.05" y2="231.20" stroke="#F04040" stroke-width="1.0" stroke-linecap="butt"/>
<line x1="1354.78" y1="210.24" x2="1354.78" y2="229.41" stroke="#F04040" stroke-width="1.0" stroke-linecap="butt"/>
<line x1="1350.48" y1="210.24" x2="1359.08" y2="210.24" stroke="#F04040" stroke-width="1.0" stroke-linecap="butt"/>
<line x1="1350.48" y1="229.41" x2="1359.08" y2="229.41" stroke="#F04040" stroke-width="1.0" stroke-linecap="butt"/>
<line x1="1359.82" y1="204.33" x2="1359.82" y2="231.75" stroke="#F04040" stroke-width="1.0" stroke-linecap="butt"/>
<line x1="1355.52" y1="204.33" x2="1364.12" y2="204.33" stroke="#F04040" stroke-width="1.0" stroke-linecap="butt"/>
<line x1="1355.52" y1="231.75" x2="1364.12" y2="231.75" stroke="#F04040" stroke-width="1.0" stroke-linecap="butt"/>
<line x1="1364.85" y1="202.29" x2="1364.85" y2="223.49" stroke="#F04040" stroke-width="1.0" stroke-linecap="butt"/>
<line x1="1360.55" y1="202.29" x2="1369.15" y2="202.29" stroke="#F04040" stroke-width="1.0" stroke-linecap="butt"/>
<line x1="1360.55" y1="223.49" x2="1369.15" y2="223.49" stroke="#F04040" stroke-width="1.0" stroke-linecap="butt"/>
<line x1="1369.88" y1="200.92" x2="1369.88" y2="221.45" stroke="#F04040" stroke-width="1.0" stroke-linecap="butt"/>
<line x1="1365.58" y1="200.92" x2="1374.18" y2="200.92" stroke="#F04040" stroke-width="1.0" stroke-linecap="butt"/>
<line x1="1365.58" y1="221.45" x2="1374.18" y2="221.45" stroke="#F04040" stroke-width="1.0" stroke-linecap="butt"/>
<line x1="1374.92" y1="200.42" x2="1374.92" y2="219.17" stroke="#F04040" stroke-width="1.0" stroke-linecap="butt"/>
<line x1="1370.62" y1="200.42" x2="1379.22" y2="200.42" stroke="#F04040" stroke-width="1.0" stroke-linecap="butt"/>
<line x1="1370.62" y1="219.17" x2="1379.22" y2="219.17" stroke="#F04040" stroke-width="1.0" stroke-linecap="butt"/>
<line x1="1379.95" y1="195.54" x2="1379.95" y2="216.59" stroke="#F04040" stroke-width="1.0" stroke-linecap="butt"/>
<line x1="1375.65" y1="195.54" x2="1384.25" y2="195.54" stroke="#F04040" stroke-width="1.0" stroke-linecap="butt"/>
<line x1="1375.65" y1="216.59" x2="1384.25" y2="216.59" stroke="#F04040" stroke-width="1.0" stroke-linecap="butt"/>
<line x1="1384.98" y1="194.22" x2="1384.98" y2="213.68" stroke="#F04040" stroke-width="1.0" stroke-linecap="butt"/>
<line x1="1380.68" y1="194.22" x2="1389.28" y2="194.22" stroke="#F04040" stroke-width="1.0" stroke-linecap="butt"/>
<line x1="1380.68" y1="213.68" x2="1389.28" y2="213.68" stroke="#F04040" stroke-width="1.0" stroke-linecap="butt"/>
<line x1="1390.02" y1="194.65" x2="1390.02" y2="217.58" stroke="#F04040" stroke-width="1.0" stroke-linecap="butt"/>
<line x1="1385.72" y1="194.65" x2="1394.32" y2="194.65" stroke="#F04040" stroke-width="1.0" stroke-linecap="butt"/>
<line x1="1385.72" y1="217.58" x2="1394.32" y2="217.58" stroke="#F04040" stroke-width="1.0" stroke-linecap="butt"/>
<line x1="1395.05" y1="195.30" x2="1395.05" y2="218.40" stroke="#F04040" stroke-width="1.0" stroke-linecap="butt"/>
<line x1="1390.75" y1="195.30" x2="1399.35" y2="195.30" stroke="#F04040" stroke-width="1.0" stroke-linecap="butt"/>
<line x1="1390.75" y1="218.40" x2="1399.35" y2="218.40" stroke="#F04040" stroke-width="1.0" stroke-linecap="butt"/>
<line x1="1400.08" y1="192.42" x2="1400.08" y2="212.10" stroke="#F04040" stroke-width="1.0" stroke-linecap="butt"/>
<line x1="1395.78" y1="192.42" x2="1404.38" y2="192.42" stroke="#F04040" stroke-width="1.0" stroke-linecap="butt"/>
<line x1="1395.78" y1="212.10" x2="1404.38" y2="212.10" stroke="#F04040" stroke-width="1.0" stroke-linecap="butt"/>
<line x1="1405.12" y1="185.50" x2="1405.12" y2="206.25" stroke="#F04040" stroke-width="1.0" stroke-linecap="butt"/>
<line x1="1400.82" y1="185.50" x2="1409.42" y2="185.50" stroke="#F04040" stroke-width="1.0" stroke-linecap="butt"/>
<line x1="1400.82" y1="206.25" x2="1409.42" y2="206.25" stroke="#F04040" stroke-width="1.0" stroke-linecap="butt"/>
<line x1="1410.15" y1="188.01" x2="1410.15" y2="208.38" stroke="#F04040" stroke-width="1.0" stroke-linecap="butt"/>
<line x1="1405.85" y1="188.01" x2="1414.45" y2="188.01" stroke="#F04040" stroke-width="1.0" stroke-linecap="butt"/>
<line x1="1405.85" y1="208.38" x2="1414.45" y2="208.38" stroke="#F04040" stroke-width="1.0" stroke-linecap="butt"/>
<line x1="1415.18" y1="187.08" x2="1415.18" y2="208.66" stroke="#F04040" stroke-width="1.0" stroke-linecap="butt"/>
<line x1="1410.88" y1="187.08" x2="1419.48" y2="187.08" stroke="#F04040" stroke-width="1.0" stroke-linecap="butt"/>
<line x1="1410.88" y1="208.66" x2="1419.48" y2="208.66" stroke="#F04040" stroke-width="1.0" stroke-linecap="butt"/>
<line x1="1420.22" y1="186.83" x2="1420.22" y2="207.40" stroke="#F04040" stroke-width="1.0" stroke-linecap="butt"/>
<line x1="1415.92" y1="186.83" x2="1424.52" y2="186.83" stroke="#F04040" stroke-width="1.0" stroke-linecap="butt"/>
<line x1="1415.92" y1="207.40" x2="1424.52" y2="207.40" stroke="#F04040" stroke-width="1.0" stroke-linecap="butt"/>
<line x1="1425.25" y1="181.58" x2="1425.25" y2="204.47" stroke="#F04040" stroke-width="1.0" stroke-linecap="butt"/>
<line x1="1420.95" y1="181.58" x2="1429.55" y2="181.58" stroke="#F04040" stroke-width="1.0" stroke-linecap="butt"/>
<line x1="1420.95" y1="204.47" x2="1429.55" y2="204.47" stroke="#F04040" stroke-width="1.0" stroke-linecap="butt"/>
<line x1="1430.29" y1="180.59" x2="1430.29" y2="201.66" stroke="#F04040" stroke-width="1.0" stroke-linecap="butt"/>
<line x1="1425.99" y1="180.59" x2="1434.59" y2="180.59" stroke="#F04040" stroke-width="1.0" stroke-linecap="butt"/>
<line x1="1425.99" y1="201.66" x2="1434.59" y2="201.66" stroke="#F04040" stroke-width="1.0" stroke-linecap="butt"/>
<line x1="1435.32" y1="167.06" x2="1435.32" y2="204.43" stroke="#F04040" stroke-width="1.0" stroke-linecap="butt"/>
<line x1="1431.02" y1="167.06" x2="1439.62" y2="167.06" stroke="#F04040" stroke-width="1.0" stroke-linecap="butt"/>
<line x1="1431.02" y1="204.43" x2="1439.62" y2="204.43" stroke="#F04040" stroke-width="1.0" stroke-linecap="butt"/>
<line x1="1440.35" y1="164.17" x2="1440.35" y2="203.32" stroke="#F04040" stroke-width="1.0" stroke-linecap="butt"/>
<line x1="1436.05" y1="164.17" x2="1444.65" y2="164.17" stroke="#F04040" stroke-width="1.0" stroke-linecap="butt"/>
<line x1="1436.05" y1="203.32" x2="1444.65" y2="203.32" stroke="#F04040" stroke-width="1.0" stroke-linecap="butt"/>
<line x1="1445.39" y1="166.02" x2="1445.39" y2="203.13" stroke="#F04040" stroke-width="1.0" stroke-linecap="butt"/>
<line x1="1441.09" y1="166.02" x2="1449.69" y2="166.02" stroke="#F04040" stroke-width="1.0" stroke-linecap="butt"/>
<line x1="1441.09" y1="203.13" x2="1449.69" y2="203.13" stroke="#F04040" stroke-width="1.0" stroke-linecap="butt"/>
<line x1="1450.42" y1="171.38" x2="1450.42" y2="194.97" stroke="#F04040" stroke-width="1.0" stroke-linecap="butt"/>
<line x1="1446.12" y1="171.38" x2="1454.72" y2="171.38" stroke="#F04040" stroke-width="1.0" stroke-linecap="butt"/>
<line x1="1446.12" y1="194.97" x2="1454.72" y2="194.97" stroke="#F04040" stroke-width="1.0" stroke-linecap="butt"/>
<line x1="1455.45" y1="163.61" x2="1455.45" y2="189.18" stroke="#F04040" stroke-width="1.0" stroke-linecap="butt"/>
<line x1="1451.15" y1="163.61" x2="1459.75" y2="163.61" stroke="#F04040" stroke-width="1.0" stroke-linecap="butt"/>
<line x1="1451.15" y1="189.18" x2="1459.75" y2="189.18" stroke="#F04040" stroke-width="1.0" stroke-linecap="butt"/>
<line x1="1460.49" y1="161.66" x2="1460.49" y2="185.33" stroke="#F04040" stroke-width="1.0" stroke-linecap="butt"/>
<line x1="1456.19" y1="161.66" x2="1464.79" y2="161.66" stroke="#F04040" stroke-width="1.0" stroke-linecap="butt"/>
<line x1="1456.19" y1="185.33" x2="1464.79" y2="185.33" stroke="#F04040" stroke-width="1.0" stroke-linecap="butt"/>
<line x1="1465.52" y1="165.15" x2="1465.52" y2="189.47" stroke="#F04040" stroke-width="1.0" stroke-linecap="butt"/>
<line x1="1461.22" y1="165.15" x2="1469.82" y2="165.15" stroke="#F04040" stroke-width="1.0" stroke-linecap="butt"/>
<line x1="1461.22" y1="189.47" x2="1469.82" y2="189.47" stroke="#F04040" stroke-width="1.0" stroke-linecap="butt"/>
<line x1="1470.55" y1="163.46" x2="1470.55" y2="186.56" stroke="#F04040" stroke-width="1.0" stroke-linecap="butt"/>
<line x1="1466.25" y1="163.46" x2="1474.85" y2="163.46" stroke="#F04040" stroke-width="1.0" stroke-linecap="butt"/>
<line x1="1466.25" y1="186.56" x2="1474.85" y2="186.56" stroke="#F04040" stroke-width="1.0" stroke-linecap="butt"/>
<line x1="1475.59" y1="159.92" x2="1475.59" y2="183.73" stroke="#F04040" stroke-width="1.0" stroke-linecap="butt"/>
<line x1="1471.29" y1="159.92" x2="1479.89" y2="159.92" stroke="#F04040" stroke-width="1.0" stroke-linecap="butt"/>
<line x1="1471.29" y1="183.73" x2="1479.89" y2="183.73" stroke="#F04040" stroke-width="1.0" stroke-linecap="butt"/>
<line x1="1480.62" y1="155.14" x2="1480.62" y2="179.31" stroke="#F04040" stroke-width="1.0" stroke-linecap="butt"/>
<line x1="1476.32" y1="155.14" x2="1484.92" y2="155.14" stroke="#F04040" stroke-width="1.0" stroke-linecap="butt"/>
<line x1="1476.32" y1="179.31" x2="1484.92" y2="179.31" stroke="#F04040" stroke-width="1.0" stroke-linecap="butt"/>
<line x1="1485.65" y1="157.58" x2="1485.65" y2="181.47" stroke="#F04040" stroke-width="1.0" stroke-linecap="butt"/>
<line x1="1481.35" y1="157.58" x2="1489.95" y2="157.58" stroke="#F04040" stroke-width="1.0" stroke-linecap="butt"/>
<line x1="1481.35" y1="181.47" x2="1489.95" y2="181.47" stroke="#F04040" stroke-width="1.0" stroke-linecap="butt"/>
<line x1="1490.69" y1="151.33" x2="1490.69" y2="177.80" stroke="#F04040" stroke-width="1.0" stroke-linecap="butt"/>
<line x1="1486.39" y1="151.33" x2="1494.99" y2="151.33" stroke="#F04040" stroke-width="1.0" stroke-linecap="butt"/>
<line x1="1486.39" y1="177.80" x2="1494.99" y2="177.80" stroke="#F04040" stroke-width="1.0" stroke-linecap="butt"/>
<line x1="1495.72" y1="148.50" x2="1495.72" y2="172.21" stroke="#F04040" stroke-width="1.0" stroke-linecap="butt"/>
<line x1="1491.42" y1="148.50" x2="1500.02" y2="148.50" stroke="#F04040" stroke-width="1.0" stroke-linecap="butt"/>
<line x1="1491.42" y1="172.21" x2="1500.02" y2="172.21" stroke="#F04040" stroke-width="1.0" stroke-linecap="butt"/>
<line x1="1500.76" y1="147.03" x2="1500.76" y2="170.57" stroke="#F04040" stroke-width="1.0" stroke-linecap="butt"/>
<line x1="1496.46" y1="147.03" x2="1505.06" y2="147.03" stroke="#F04040" stroke-width="1.0" stroke-linecap="butt"/>
<line x1="1496.46" y1="170.57" x2="1505.06" y2="170.57" stroke="#F04040" stroke-width="1.0" stroke-linecap="butt"/>
<line x1="1505.79" y1="141.02" x2="1505.79" y2="166.82" stroke="#F04040" stroke-width="1.0" stroke-linecap="butt"/>
<line x1="1501.49" y1="141.02" x2="1510.09" y2="141.02" stroke="#F04040" stroke-width="1.0" stroke-linecap="butt"/>
<line x1="1501.49" y1="166.82" x2="1510.09" y2="166.82" stroke="#F04040" stroke-width="1.0" stroke-linecap="butt"/>
<line x1="1510.82" y1="139.11" x2="1510.82" y2="164.20" stroke="#F04040" stroke-width="1.0" stroke-linecap="butt"/>
<line x1="1506.52" y1="139.11" x2="1515.12" y2="139.11" stroke="#F04040" stroke-width="1.0" stroke-linecap="butt"/>
<line x1="1506.52" y1="164.20" x2="1515.12" y2="164.20" stroke="#F04040" stroke-width="1.0" stroke-linecap="butt"/>
<line x1="1515.86" y1="139.08" x2="1515.86" y2="164.83" stroke="#F04040" stroke-width="1.0" stroke-linecap="butt"/>
<line x1="1511.56" y1="139.08" x2="1520.16" y2="139.08" stroke="#F04040" stroke-width="1.0" stroke-linecap="butt"/>
<line x1="1511.56" y1="164.83" x2="1520.16" y2="164.83" stroke="#F04040" stroke-width="1.0" stroke-linecap="butt"/>
<line x1="1520.89" y1="140.89" x2="1520.89" y2="164.31" stroke="#F04040" stroke-width="1.0" stroke-linecap="butt"/>
<line x1="1516.59" y1="140.89" x2="1525.19" y2="140.89" stroke="#F04040" stroke-width="1.0" stroke-linecap="butt"/>
<line x1="1516.59" y1="164.31" x2="1525.19" y2="164.31" stroke="#F04040" stroke-width="1.0" stroke-linecap="butt"/>
<line x1="1525.92" y1="131.61" x2="1525.92" y2="159.91" stroke="#F04040" stroke-width="1.0" stroke-linecap="butt"/>
<line x1="1521.62" y1="131.61" x2="1530.22" y2="131.61" stroke="#F04040" stroke-width="1.0" stroke-linecap="butt"/>
<line x1="1521.62" y1="159.91" x2="1530.22" y2="159.91" stroke="#F04040" stroke-width="1.0" stroke-linecap="butt"/>
<line x1="1530.96" y1="129.45" x2="1530.96" y2="154.32" stroke="#F04040" stroke-width="1.0" stroke-linecap="butt"/>
<line x1="1526.66" y1="129.45" x2="1535.26" y2="129.45" stroke="#F04040" stroke-width="1.0" stroke-linecap="butt"/>
<line x1="1526.66" y1="154.32" x2="1535.26" y2="154.32" stroke="#F04040" stroke-width="1.0" stroke-linecap="butt"/>
<line x1="1535.99" y1="137.35" x2="1535.99" y2="165.53" stroke="#F04040" stroke-width="1.0" stroke-linecap="butt"/>
<line x1="1531.69" y1="137.35" x2="1540.29" y2="137.35" stroke="#F04040" stroke-width="1.0" stroke-linecap="butt"/>
<line x1="1531.69" y1="165.53" x2="1540.29" y2="165.53" stroke="#F04040" stroke-width="1.0" stroke-linecap="butt"/>
<line x1="1541.02" y1="138.69" x2="1541.02" y2="162.33" stroke="#F04040" stroke-width="1.0" stroke-linecap="butt"/>
<line x1="1536.72" y1="138.69" x2="1545.32" y2="138.69" stroke="#F04040" stroke-width="1.0" stroke-linecap="butt"/>
<line x1="1536.72" y1="162.33" x2="1545.32" y2="162.33" stroke="#F04040" stroke-width="1.0" stroke-linecap="butt"/>
<line x1="1546.06" y1="134.78" x2="1546.06" y2="158.56" stroke="#F04040" stroke-width="1.0" stroke-linecap="butt"/>
<line x1="1541.76" y1="134.78" x2="1550.36" y2="134.78" stroke="#F04040" stroke-width="1.0" stroke-linecap="butt"/>
<line x1="1541.76" y1="158.56" x2="1550.36" y2="158.56" stroke="#F04040" stroke-width="1.0" stroke-linecap="butt"/>
<line x1="1551.09" y1="127.57" x2="1551.09" y2="153.03" stroke="#F04040" stroke-width="1.0" stroke-linecap="butt"/>
<line x1="1546.79" y1="127.57" x2="1555.39" y2="127.57" stroke="#F04040" stroke-width="1.0" stroke-linecap="butt"/>
<line x1="1546.79" y1="153.03" x2="1555.39" y2="153.03" stroke="#F04040" stroke-width="1.0" stroke-linecap="butt"/>
<line x1="1556.12" y1="129.62" x2="1556.12" y2="155.20" stroke="#F04040" stroke-width="1.0" stroke-linecap="butt"/>
<line x1="1551.82" y1="129.62" x2="1560.42" y2="129.62" stroke="#F04040" stroke-width="1.0" stroke-linecap="butt"/>
<line x1="1551.82" y1="155.20" x2="1560.42" y2="155.20" stroke="#F04040" stroke-width="1.0" stroke-linecap="butt"/>
<line x1="1561.16" y1="130.22" x2="1561.16" y2="154.51" stroke="#F04040" stroke-width="1.0" stroke-linecap="butt"/>
<line x1="1556.86" y1="130.22" x2="1565.46" y2="130.22" stroke="#F04040" stroke-width="1.0" stroke-linecap="butt"/>
<line x1="1556.86" y1="154.51" x2="1565.46" y2="154.51" stroke="#F04040" stroke-width="1.0" stroke-linecap="butt"/>
<line x1="1566.19" y1="130.36" x2="1566.19" y2="153.55" stroke="#F04040" stroke-width="1.0" stroke-linecap="butt"/>
<line x1="1561.89" y1="130.36" x2="1570.49" y2="130.36" stroke="#F04040" stroke-width="1.0" stroke-linecap="butt"/>
<line x1="1561.89" y1="153.55" x2="1570.49" y2="153.55" stroke="#F04040" stroke-width="1.0" stroke-linecap="butt"/>
<line x1="1571.22" y1="124.94" x2="1571.22" y2="152.03" stroke="#F04040" stroke-width="1.0" stroke-linecap="butt"/>
<line x1="1566.92" y1="124.94" x2="1575.52" y2="124.94" stroke="#F04040" stroke-width="1.0" stroke-linecap="butt"/>
<line x1="1566.92" y1="152.03" x2="1575.52" y2="152.03" stroke="#F04040" stroke-width="1.0" stroke-linecap="butt"/>
<line x1="1576.26" y1="115.36" x2="1576.26" y2="144.35" stroke="#F04040" stroke-width="1.0" stroke-linecap="butt"/>
<line x1="1571.96" y1="115.36" x2="1580.56" y2="115.36" stroke="#F04040" stroke-width="1.0" stroke-linecap="butt"/>
<line x1="1571.96" y1="144.35" x2="1580.56" y2="144.35" stroke="#F04040" stroke-width="1.0" stroke-linecap="butt"/>
<line x1="1581.29" y1="109.83" x2="1581.29" y2="135.99" stroke="#F04040" stroke-width="1.0" stroke-linecap="butt"/>
<line x1="1576.99" y1="109.83" x2="1585.59" y2="109.83" stroke="#F04040" stroke-width="1.0" stroke-linecap="butt"/>
<line x1="1576.99" y1="135.99" x2="1585.59" y2="135.99" stroke="#F04040" stroke-width="1.0" stroke-linecap="butt"/>
<line x1="1586.33" y1="107.42" x2="1586.33" y2="132.38" stroke="#F04040" stroke-width="1.0" stroke-linecap="butt"/>
<line x1="1582.03" y1="107.42" x2="1590.63" y2="107.42" stroke="#F04040" stroke-width="1.0" stroke-linecap="butt"/>
<line x1="1582.03" y1="132.38" x2="1590.63" y2="132.38" stroke="#F04040" stroke-width="1.0" stroke-linecap="butt"/>
<line x1="1591.36" y1="111.60" x2="1591.36" y2="136.76" stroke="#F04040" stroke-width="1.0" stroke-linecap="butt"/>
<line x1="1587.06" y1="111.60" x2="1595.66" y2="111.60" stroke="#F04040" stroke-width="1.0" stroke-linecap="butt"/>
<line x1="1587.06" y1="136.76" x2="1595.66" y2="136.76" stroke="#F04040" stroke-width="1.0" stroke-linecap="butt"/>
<line x1="1596.39" y1="114.18" x2="1596.39" y2="140.25" stroke="#F04040" stroke-width="1.0" stroke-linecap="butt"/>
<line x1="1592.09" y1="114.18" x2="1600.69" y2="114.18" stroke="#F04040" stroke-width="1.0" stroke-linecap="butt"/>
<line x1="1592.09" y1="140.25" x2="1600.69" y2="140.25" stroke="#F04040" stroke-width="1.0" stroke-linecap="butt"/>
<line x1="1601.43" y1="103.14" x2="1601.43" y2="146.29" stroke="#F04040" stroke-width="1.0" stroke-linecap="butt"/>
<line x1="1597.13" y1="103.14" x2="1605.73" y2="103.14" stroke="#F04040" stroke-width="1.0" stroke-linecap="butt"/>
<line x1="1597.13" y1="146.29" x2="1605.73" y2="146.29" stroke="#F04040" stroke-width="1.0" stroke-linecap="butt"/>
<line x1="1606.46" y1="87.31" x2="1606.46" y2="162.52" stroke="#F04040" stroke-width="1.0" stroke-linecap="butt"/>
<line x1="1602.16" y1="87.31" x2="1610.76" y2="87.31" stroke="#F04040" stroke-width="1.0" stroke-linecap="butt"/>
<line x1="1602.16" y1="162.52" x2="1610.76" y2="162.52" stroke="#F04040" stroke-width="1.0" stroke-linecap="butt"/>
<line x1="1611.49" y1="94.68" x2="1611.49" y2="157.29" stroke="#F04040" stroke-width="1.0" stroke-linecap="butt"/>
<line x1="1607.19" y1="94.68" x2="1615.79" y2="94.68" stroke="#F04040" stroke-width="1.0" stroke-linecap="butt"/>
<line x1="1607.19" y1="157.29" x2="1615.79" y2="157.29" stroke="#F04040" stroke-width="1.0" stroke-linecap="butt"/>
<polyline points="1027.6,347.5 1032.6,344.5 1037.7,341.8 1042.7,342.7 1047.7,345.7 1052.8,345.2 1057.8,342.4 1062.8,342.0 1067.9,339.4 1072.9,336.1 1077.9,332.0 1083.0,328.8 1088.0,329.0 1093.0,327.7 1098.1,324.5 1103.1,322.8 1108.1,320.1 1113.2,318.2 1118.2,317.7 1123.2,315.3 1128.3,312.0 1133.3,308.7 1138.3,308.4 1143.4,307.3 1148.4,305.2 1153.4,303.0 1158.5,302.2 1163.5,299.9 1168.5,297.1 1173.6,297.4 1178.6,295.5 1183.6,292.1 1188.7,289.4 1193.7,289.8 1198.7,287.6 1203.8,284.4 1208.8,282.1 1213.8,282.8 1218.9,279.8 1223.9,275.1 1228.9,275.5 1234.0,275.4 1239.0,273.0 1244.0,271.2 1249.1,270.7 1254.1,265.9 1259.1,262.6 1264.2,262.6 1269.2,261.7 1274.2,256.7 1279.3,253.3 1284.3,251.6 1289.3,248.5 1294.4,243.6 1299.4,244.2 1304.4,241.2 1309.5,234.6 1314.5,233.1 1319.5,237.1 1324.6,235.7 1329.6,232.4 1334.6,228.7 1339.7,229.7 1344.7,226.9 1349.7,221.6 1354.8,219.8 1359.8,218.0 1364.8,212.9 1369.9,211.2 1374.9,209.8 1379.9,206.1 1385.0,203.9 1390.0,206.1 1395.1,206.8 1400.1,202.3 1405.1,195.9 1410.2,198.2 1415.2,197.9 1420.2,197.1 1425.3,193.0 1430.3,191.1 1435.3,185.7 1440.4,183.7 1445.4,184.6 1450.4,183.2 1455.5,176.4 1460.5,173.5 1465.5,177.3 1470.6,175.0 1475.6,171.8 1480.6,167.2 1485.7,169.5 1490.7,164.6 1495.7,160.4 1500.8,158.8 1505.8,153.9 1510.8,151.7 1515.9,152.0 1520.9,152.6 1525.9,145.8 1531.0,141.9 1536.0,151.4 1541.0,150.5 1546.1,146.7 1551.1,140.3 1556.1,142.4 1561.2,142.4 1566.2,142.0 1571.2,138.5 1576.3,129.9 1581.3,122.9 1586.3,119.9 1591.4,124.2 1596.4,127.2 1601.4,124.7 1606.5,124.9 1611.5,126.0" fill="none" stroke="#E83030" stroke-width="1.0" stroke-linejoin="round" />
</g>
<rect x="1027.6" y="101.0" width="586.10" height="462.90" fill="none" stroke="#000" stroke-width="1.8"/>
<line x1="1027.60" y1="563.90" x2="1036.60" y2="563.90" stroke="#000" stroke-width="1.6" stroke-linecap="butt"/>
<line x1="1027.60" y1="525.32" x2="1032.10" y2="525.32" stroke="#000" stroke-width="1.6" stroke-linecap="butt"/>
<line x1="1027.60" y1="486.75" x2="1036.60" y2="486.75" stroke="#000" stroke-width="1.6" stroke-linecap="butt"/>
<line x1="1027.60" y1="448.17" x2="1032.10" y2="448.17" stroke="#000" stroke-width="1.6" stroke-linecap="butt"/>
<line x1="1027.60" y1="409.60" x2="1036.60" y2="409.60" stroke="#000" stroke-width="1.6" stroke-linecap="butt"/>
<line x1="1027.60" y1="371.02" x2="1032.10" y2="371.02" stroke="#000" stroke-width="1.6" stroke-linecap="butt"/>
<line x1="1027.60" y1="332.45" x2="1036.60" y2="332.45" stroke="#000" stroke-width="1.6" stroke-linecap="butt"/>
<line x1="1027.60" y1="293.88" x2="1032.10" y2="293.88" stroke="#000" stroke-width="1.6" stroke-linecap="butt"/>
<line x1="1027.60" y1="255.30" x2="1036.60" y2="255.30" stroke="#000" stroke-width="1.6" stroke-linecap="butt"/>
<line x1="1027.60" y1="216.72" x2="1032.10" y2="216.72" stroke="#000" stroke-width="1.6" stroke-linecap="butt"/>
<line x1="1027.60" y1="178.15" x2="1036.60" y2="178.15" stroke="#000" stroke-width="1.6" stroke-linecap="butt"/>
<line x1="1027.60" y1="139.57" x2="1032.10" y2="139.57" stroke="#000" stroke-width="1.6" stroke-linecap="butt"/>
<line x1="1027.60" y1="101.00" x2="1036.60" y2="101.00" stroke="#000" stroke-width="1.6" stroke-linecap="butt"/>
<line x1="1027.60" y1="563.90" x2="1027.60" y2="559.30" stroke="#000" stroke-width="1.6" stroke-linecap="butt"/>
<line x1="1062.08" y1="563.90" x2="1062.08" y2="554.90" stroke="#000" stroke-width="1.6" stroke-linecap="butt"/>
<line x1="1096.55" y1="563.90" x2="1096.55" y2="559.30" stroke="#000" stroke-width="1.6" stroke-linecap="butt"/>
<line x1="1131.03" y1="563.90" x2="1131.03" y2="554.90" stroke="#000" stroke-width="1.6" stroke-linecap="butt"/>
<line x1="1165.51" y1="563.90" x2="1165.51" y2="559.30" stroke="#000" stroke-width="1.6" stroke-linecap="butt"/>
<line x1="1199.98" y1="563.90" x2="1199.98" y2="554.90" stroke="#000" stroke-width="1.6" stroke-linecap="butt"/>
<line x1="1234.46" y1="563.90" x2="1234.46" y2="559.30" stroke="#000" stroke-width="1.6" stroke-linecap="butt"/>
<line x1="1268.94" y1="563.90" x2="1268.94" y2="554.90" stroke="#000" stroke-width="1.6" stroke-linecap="butt"/>
<line x1="1303.41" y1="563.90" x2="1303.41" y2="559.30" stroke="#000" stroke-width="1.6" stroke-linecap="butt"/>
<line x1="1337.89" y1="563.90" x2="1337.89" y2="554.90" stroke="#000" stroke-width="1.6" stroke-linecap="butt"/>
<line x1="1372.36" y1="563.90" x2="1372.36" y2="559.30" stroke="#000" stroke-width="1.6" stroke-linecap="butt"/>
<line x1="1406.84" y1="563.90" x2="1406.84" y2="554.90" stroke="#000" stroke-width="1.6" stroke-linecap="butt"/>
<line x1="1441.32" y1="563.90" x2="1441.32" y2="559.30" stroke="#000" stroke-width="1.6" stroke-linecap="butt"/>
<line x1="1475.79" y1="563.90" x2="1475.79" y2="554.90" stroke="#000" stroke-width="1.6" stroke-linecap="butt"/>
<line x1="1510.27" y1="563.90" x2="1510.27" y2="559.30" stroke="#000" stroke-width="1.6" stroke-linecap="butt"/>
<line x1="1544.75" y1="563.90" x2="1544.75" y2="554.90" stroke="#000" stroke-width="1.6" stroke-linecap="butt"/>
<line x1="1579.22" y1="563.90" x2="1579.22" y2="559.30" stroke="#000" stroke-width="1.6" stroke-linecap="butt"/>
<text x="1002.50" y="571.30" font-family="'Liberation Sans', Arial, sans-serif" font-size="28.50" textLength="15.06" lengthAdjust="spacingAndGlyphs" fill="#000">0</text>
<text x="987.44" y="494.15" font-family="'Liberation Sans', Arial, sans-serif" font-size="28.50" textLength="30.12" lengthAdjust="spacingAndGlyphs" fill="#000">50</text>
<text x="972.38" y="417.00" font-family="'Liberation Sans', Arial, sans-serif" font-size="28.50" textLength="45.17" lengthAdjust="spacingAndGlyphs" fill="#000">100</text>
<text x="972.38" y="339.85" font-family="'Liberation Sans', Arial, sans-serif" font-size="28.50" textLength="45.17" lengthAdjust="spacingAndGlyphs" fill="#000">150</text>
<text x="972.38" y="262.70" font-family="'Liberation Sans', Arial, sans-serif" font-size="28.50" textLength="45.17" lengthAdjust="spacingAndGlyphs" fill="#000">200</text>
<text x="972.38" y="185.55" font-family="'Liberation Sans', Arial, sans-serif" font-size="28.50" textLength="45.17" lengthAdjust="spacingAndGlyphs" fill="#000">250</text>
<text x="972.38" y="108.40" font-family="'Liberation Sans', Arial, sans-serif" font-size="28.50" textLength="45.17" lengthAdjust="spacingAndGlyphs" fill="#000">300</text>
<text x="1042.82" y="597.30" font-family="'Liberation Sans', Arial, sans-serif" font-size="28.80" textLength="39.04" lengthAdjust="spacingAndGlyphs" fill="#000">0.2</text>
<text x="1111.68" y="597.30" font-family="'Liberation Sans', Arial, sans-serif" font-size="28.80" textLength="39.04" lengthAdjust="spacingAndGlyphs" fill="#000">0.3</text>
<text x="1180.43" y="597.30" font-family="'Liberation Sans', Arial, sans-serif" font-size="28.80" textLength="39.04" lengthAdjust="spacingAndGlyphs" fill="#000">0.4</text>
<text x="1249.56" y="597.30" font-family="'Liberation Sans', Arial, sans-serif" font-size="28.80" textLength="39.04" lengthAdjust="spacingAndGlyphs" fill="#000">0.5</text>
<text x="1318.54" y="597.30" font-family="'Liberation Sans', Arial, sans-serif" font-size="28.80" textLength="39.04" lengthAdjust="spacingAndGlyphs" fill="#000">0.6</text>
<text x="1387.58" y="597.30" font-family="'Liberation Sans', Arial, sans-serif" font-size="28.80" textLength="39.04" lengthAdjust="spacingAndGlyphs" fill="#000">0.7</text>
<text x="1456.44" y="597.30" font-family="'Liberation Sans', Arial, sans-serif" font-size="28.80" textLength="39.04" lengthAdjust="spacingAndGlyphs" fill="#000">0.8</text>
<text x="1525.45" y="597.30" font-family="'Liberation Sans', Arial, sans-serif" font-size="28.80" textLength="39.04" lengthAdjust="spacingAndGlyphs" fill="#000">0.9</text>
<text x="1593.76" y="597.30" font-family="'Liberation Sans', Arial, sans-serif" font-size="28.80" textLength="39.04" lengthAdjust="spacingAndGlyphs" fill="#000">1.0</text>
<text x="1209.65" y="656.00" font-family="Carlito, 'Liberation Sans', sans-serif" font-size="33.40" textLength="210.18" lengthAdjust="spacingAndGlyphs" fill="#000" style="font-size-adjust:0.4775">Frequency (THz)</text>
<text x="888.34" y="37.90" font-family="'Open Sans', 'DejaVu Sans', 'Liberation Sans', sans-serif" font-size="44.50" textLength="26.79" lengthAdjust="spacingAndGlyphs" fill="#000" style="font-size-adjust:0.535">b</text>
<text transform="translate(956.00,526.83) rotate(-90)" x="0" y="0" font-family="Carlito, 'Liberation Sans', sans-serif" font-size="32.60" textLength="348.73" lengthAdjust="spacingAndGlyphs" fill="#000" style="font-size-adjust:0.4775">Absorption Constant (cm</text>
<text transform="translate(937.70,177.33) rotate(-90)" x="0" y="0" font-family="Carlito, 'Liberation Sans', sans-serif" font-size="20.00" textLength="16.23" lengthAdjust="spacingAndGlyphs" fill="#000" style="font-size-adjust:0.4775">-1</text>
<text transform="translate(956.00,160.27) rotate(-90)" x="0" y="0" font-family="Carlito, 'Liberation Sans', sans-serif" font-size="32.60" textLength="9.45" lengthAdjust="spacingAndGlyphs" fill="#000" style="font-size-adjust:0.4775">)</text>
<rect x="1264.1" y="451.7" width="335.3" height="82.5" fill="#fff" stroke="#555" stroke-width="1.2"/>
<line x1="1283.20" y1="476.30" x2="1330.70" y2="476.30" stroke="#555555" stroke-width="1.2" stroke-linecap="butt"/>
<line x1="1283.20" y1="513.10" x2="1330.70" y2="513.10" stroke="#E84040" stroke-width="1.2" stroke-linecap="butt"/>
<text x="1336.11" y="484.20" font-family="Carlito, 'Liberation Sans', sans-serif" font-size="27.00" textLength="246.92" lengthAdjust="spacingAndGlyphs" fill="#000" style="font-size-adjust:0.4775">Pure water with heparin</text>
<text x="1336.09" y="520.70" font-family="Carlito, 'Liberation Sans', sans-serif" font-size="27.00" textLength="112.90" lengthAdjust="spacingAndGlyphs" fill="#000" style="font-size-adjust:0.4775">Pure water</text>
<rect x="1062.3" y="884.0" width="15.8" height="15.8" fill="#0000FF"/>
<rect x="1143.4" y="1090.1" width="15.8" height="15.8" fill="#0000FF"/>
<rect x="1154.6" y="978.2" width="15.8" height="15.8" fill="#0000FF"/>
<rect x="1213.7" y="860.8" width="15.8" height="15.8" fill="#0000FF"/>
<rect x="1219.2" y="926.9" width="15.8" height="15.8" fill="#0000FF"/>
<rect x="1216.8" y="933.1" width="15.8" height="15.8" fill="#0000FF"/>
<rect x="1224.8" y="944.5" width="15.8" height="15.8" fill="#0000FF"/>
<rect x="1222.2" y="979.1" width="15.8" height="15.8" fill="#0000FF"/>
<rect x="1247.4" y="917.9" width="15.8" height="15.8" fill="#0000FF"/>
<rect x="1241.9" y="926.2" width="15.8" height="15.8" fill="#0000FF"/>
<rect x="1250.0" y="926.2" width="15.8" height="15.8" fill="#0000FF"/>
<rect x="1263.9" y="1036.6" width="15.8" height="15.8" fill="#0000FF"/>
<rect x="1278.1" y="1038.8" width="15.8" height="15.8" fill="#0000FF"/>
<rect x="1283.7" y="928.2" width="15.8" height="15.8" fill="#0000FF"/>
<rect x="1286.6" y="944.0" width="15.8" height="15.8" fill="#0000FF"/>
<rect x="1320.3" y="840.8" width="15.8" height="15.8" fill="#0000FF"/>
<rect x="1325.6" y="995.1" width="15.8" height="15.8" fill="#0000FF"/>
<rect x="1337.0" y="1001.2" width="15.8" height="15.8" fill="#0000FF"/>
<rect x="1337.0" y="1009.3" width="15.8" height="15.8" fill="#0000FF"/>
<rect x="1362.0" y="1054.4" width="15.8" height="15.8" fill="#0000FF"/>
<rect x="1373.4" y="856.0" width="15.8" height="15.8" fill="#0000FF"/>
<rect x="1379.1" y="1140.6" width="15.8" height="15.8" fill="#0000FF"/>
<rect x="1389.8" y="866.6" width="15.8" height="15.8" fill="#0000FF"/>
<rect x="1437.9" y="891.3" width="15.8" height="15.8" fill="#0000FF"/>
<rect x="1474.3" y="963.8" width="15.8" height="15.8" fill="#0000FF"/>
<rect x="1496.7" y="1004.0" width="15.8" height="15.8" fill="#0000FF"/>
<rect x="1530.3" y="941.7" width="15.8" height="15.8" fill="#0000FF"/>
<rect x="1563.8" y="890.8" width="15.8" height="15.8" fill="#0000FF"/>
<rect x="1037.6" y="778.4" width="588.00" height="454.60" fill="none" stroke="#000" stroke-width="1.8"/>
<line x1="1028.30" y1="1233.00" x2="1037.60" y2="1233.00" stroke="#000" stroke-width="1.6" stroke-linecap="butt"/>
<line x1="1032.60" y1="1200.53" x2="1037.60" y2="1200.53" stroke="#000" stroke-width="1.6" stroke-linecap="butt"/>
<line x1="1028.30" y1="1168.06" x2="1037.60" y2="1168.06" stroke="#000" stroke-width="1.6" stroke-linecap="butt"/>
<line x1="1032.60" y1="1135.59" x2="1037.60" y2="1135.59" stroke="#000" stroke-width="1.6" stroke-linecap="butt"/>
<line x1="1028.30" y1="1103.11" x2="1037.60" y2="1103.11" stroke="#000" stroke-width="1.6" stroke-linecap="butt"/>
<line x1="1032.60" y1="1070.64" x2="1037.60" y2="1070.64" stroke="#000" stroke-width="1.6" stroke-linecap="butt"/>
<line x1="1028.30" y1="1038.17" x2="1037.60" y2="1038.17" stroke="#000" stroke-width="1.6" stroke-linecap="butt"/>
<line x1="1032.60" y1="1005.70" x2="1037.60" y2="1005.70" stroke="#000" stroke-width="1.6" stroke-linecap="butt"/>
<line x1="1028.30" y1="973.23" x2="1037.60" y2="973.23" stroke="#000" stroke-width="1.6" stroke-linecap="butt"/>
<line x1="1032.60" y1="940.76" x2="1037.60" y2="940.76" stroke="#000" stroke-width="1.6" stroke-linecap="butt"/>
<line x1="1028.30" y1="908.29" x2="1037.60" y2="908.29" stroke="#000" stroke-width="1.6" stroke-linecap="butt"/>
<line x1="1032.60" y1="875.81" x2="1037.60" y2="875.81" stroke="#000" stroke-width="1.6" stroke-linecap="butt"/>
<line x1="1028.30" y1="843.34" x2="1037.60" y2="843.34" stroke="#000" stroke-width="1.6" stroke-linecap="butt"/>
<line x1="1032.60" y1="810.87" x2="1037.60" y2="810.87" stroke="#000" stroke-width="1.6" stroke-linecap="butt"/>
<line x1="1028.30" y1="778.40" x2="1037.60" y2="778.40" stroke="#000" stroke-width="1.6" stroke-linecap="butt"/>
<line x1="1065.20" y1="1233.00" x2="1065.20" y2="1242.50" stroke="#000" stroke-width="1.6" stroke-linecap="butt"/>
<line x1="1121.24" y1="1233.00" x2="1121.24" y2="1238.50" stroke="#000" stroke-width="1.6" stroke-linecap="butt"/>
<line x1="1177.28" y1="1233.00" x2="1177.28" y2="1242.50" stroke="#000" stroke-width="1.6" stroke-linecap="butt"/>
<line x1="1233.32" y1="1233.00" x2="1233.32" y2="1238.50" stroke="#000" stroke-width="1.6" stroke-linecap="butt"/>
<line x1="1289.36" y1="1233.00" x2="1289.36" y2="1242.50" stroke="#000" stroke-width="1.6" stroke-linecap="butt"/>
<line x1="1345.40" y1="1233.00" x2="1345.40" y2="1238.50" stroke="#000" stroke-width="1.6" stroke-linecap="butt"/>
<line x1="1401.44" y1="1233.00" x2="1401.44" y2="1242.50" stroke="#000" stroke-width="1.6" stroke-linecap="butt"/>
<line x1="1457.48" y1="1233.00" x2="1457.48" y2="1238.50" stroke="#000" stroke-width="1.6" stroke-linecap="butt"/>
<line x1="1513.52" y1="1233.00" x2="1513.52" y2="1242.50" stroke="#000" stroke-width="1.6" stroke-linecap="butt"/>
<line x1="1569.56" y1="1233.00" x2="1569.56" y2="1238.50" stroke="#000" stroke-width="1.6" stroke-linecap="butt"/>
<line x1="1625.60" y1="1233.00" x2="1625.60" y2="1242.50" stroke="#000" stroke-width="1.6" stroke-linecap="butt"/>
<text x="991.53" y="1239.60" font-family="Carlito, 'Liberation Sans', sans-serif" font-size="31.50" textLength="31.93" lengthAdjust="spacingAndGlyphs" fill="#000" style="font-size-adjust:0.4775">95</text>
<text x="974.52" y="1174.66" font-family="Carlito, 'Liberation Sans', sans-serif" font-size="31.50" textLength="47.90" lengthAdjust="spacingAndGlyphs" fill="#000" style="font-size-adjust:0.4775">100</text>
<text x="975.57" y="1109.71" font-family="Carlito, 'Liberation Sans', sans-serif" font-size="31.50" textLength="47.90" lengthAdjust="spacingAndGlyphs" fill="#000" style="font-size-adjust:0.4775">105</text>
<text x="974.52" y="1044.77" font-family="Carlito, 'Liberation Sans', sans-serif" font-size="31.50" textLength="47.90" lengthAdjust="spacingAndGlyphs" fill="#000" style="font-size-adjust:0.4775">110</text>
<text x="975.57" y="979.83" font-family="Carlito, 'Liberation Sans', sans-serif" font-size="31.50" textLength="47.90" lengthAdjust="spacingAndGlyphs" fill="#000" style="font-size-adjust:0.4775">115</text>
<text x="974.52" y="914.89" font-family="Carlito, 'Liberation Sans', sans-serif" font-size="31.50" textLength="47.90" lengthAdjust="spacingAndGlyphs" fill="#000" style="font-size-adjust:0.4775">120</text>
<text x="975.57" y="849.94" font-family="Carlito, 'Liberation Sans', sans-serif" font-size="31.50" textLength="47.90" lengthAdjust="spacingAndGlyphs" fill="#000" style="font-size-adjust:0.4775">125</text>
<text x="974.52" y="785.00" font-family="Carlito, 'Liberation Sans', sans-serif" font-size="31.50" textLength="47.90" lengthAdjust="spacingAndGlyphs" fill="#000" style="font-size-adjust:0.4775">130</text>
<text x="1045.75" y="1271.50" font-family="Carlito, 'Liberation Sans', sans-serif" font-size="30.50" textLength="39.77" lengthAdjust="spacingAndGlyphs" fill="#000" style="font-size-adjust:0.4775">4.0</text>
<text x="1157.68" y="1271.50" font-family="Carlito, 'Liberation Sans', sans-serif" font-size="30.50" textLength="39.77" lengthAdjust="spacingAndGlyphs" fill="#000" style="font-size-adjust:0.4775">4.4</text>
<text x="1270.13" y="1271.50" font-family="Carlito, 'Liberation Sans', sans-serif" font-size="30.50" textLength="39.77" lengthAdjust="spacingAndGlyphs" fill="#000" style="font-size-adjust:0.4775">4.8</text>
<text x="1381.81" y="1271.50" font-family="Carlito, 'Liberation Sans', sans-serif" font-size="30.50" textLength="39.77" lengthAdjust="spacingAndGlyphs" fill="#000" style="font-size-adjust:0.4775">5.2</text>
<text x="1493.76" y="1271.50" font-family="Carlito, 'Liberation Sans', sans-serif" font-size="30.50" textLength="39.77" lengthAdjust="spacingAndGlyphs" fill="#000" style="font-size-adjust:0.4775">5.6</text>
<text x="1605.71" y="1271.50" font-family="Carlito, 'Liberation Sans', sans-serif" font-size="30.50" textLength="39.77" lengthAdjust="spacingAndGlyphs" fill="#000" style="font-size-adjust:0.4775">6.0</text>
<text x="1257.52" y="1324.70" font-family="Carlito, 'Liberation Sans', sans-serif" font-size="31.50" textLength="148.11" lengthAdjust="spacingAndGlyphs" fill="#000" style="font-size-adjust:0.4775">RBC (M/μL)</text>
<text x="1488.94" y="1133.20" font-family="Carlito, 'Liberation Sans', sans-serif" font-size="34.40" textLength="73.18" lengthAdjust="spacingAndGlyphs" fill="#000" style="font-size-adjust:0.4775">n=29</text>
<text x="1465.72" y="1175.90" font-family="Carlito, 'Liberation Sans', sans-serif" font-size="34.40" textLength="119.13" lengthAdjust="spacingAndGlyphs" fill="#000" style="font-size-adjust:0.4775">p=0.736</text>
<text x="886.28" y="712.50" font-family="'Open Sans', 'DejaVu Sans', 'Liberation Sans', sans-serif" font-size="44.50" textLength="26.43" lengthAdjust="spacingAndGlyphs" fill="#000" style="font-size-adjust:0.535">d</text>
<text transform="translate(938.60,1204.73) rotate(-90)" x="0" y="0" font-family="Carlito, 'Liberation Sans', sans-serif" font-size="32.00" textLength="389.60" lengthAdjust="spacingAndGlyphs" fill="#000" style="font-size-adjust:0.4775">Absorption Const. at 270GHz</text>
</svg>
</body></html>
